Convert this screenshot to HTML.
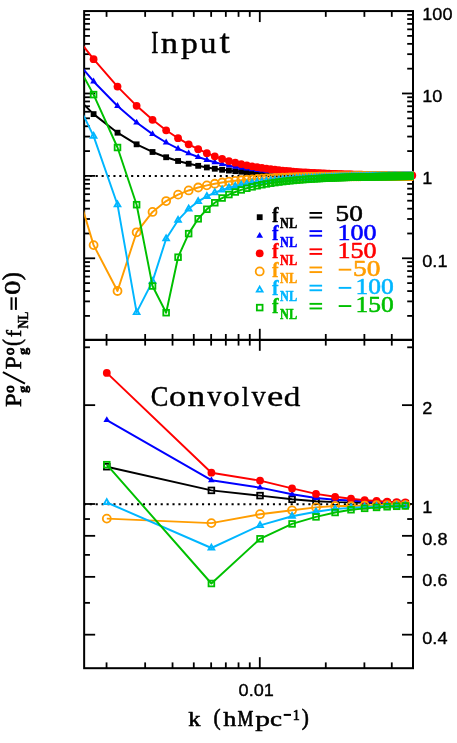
<!DOCTYPE html>
<html lang="en"><head><meta charset="utf-8"><title>P_g ratio vs k</title>
<style>html,body{margin:0;padding:0;background:#fff;}body{width:457px;height:743px;overflow:hidden;font-family:"Liberation Sans",sans-serif;}svg{display:block;will-change:transform;}</style></head>
<body>
<svg width="457" height="743" viewBox="0 0 457 743">
<rect width="457" height="743" fill="#fff"/>
<defs>
<clipPath id="ct"><rect x="84.15" y="11.07" width="328.85" height="328.73"/></clipPath>
<clipPath id="cb"><rect x="84.15" y="339.8" width="328.85" height="328.40000000000003"/></clipPath>
<clipPath id="cm"><rect x="0" y="0" width="413.5" height="339.8"/></clipPath>
</defs>
<line x1="83.86" y1="175.95" x2="413.00" y2="175.95" stroke="#000" stroke-width="1.9" stroke-dasharray="2.1 3.808"/>
<line x1="83.86" y1="504.25" x2="413.00" y2="504.25" stroke="#000" stroke-width="1.9" stroke-dasharray="2.1 3.808"/>
<g stroke="#000" stroke-width="2.0" stroke-linecap="square" fill="none">
<rect x="84.15" y="11.07" width="328.85" height="657.13"/>
</g>
<line x1="84.15" y1="339.80" x2="413.00" y2="339.80" stroke="#000" stroke-width="2.3"/>
<line x1="106.55" y1="11.07" x2="106.55" y2="16.87" stroke="#000" stroke-width="1.8"/>
<line x1="106.55" y1="334.00" x2="106.55" y2="345.60" stroke="#000" stroke-width="1.8"/>
<line x1="106.55" y1="668.20" x2="106.55" y2="662.40" stroke="#000" stroke-width="1.8"/>
<line x1="145.15" y1="11.07" x2="145.15" y2="16.87" stroke="#000" stroke-width="1.8"/>
<line x1="145.15" y1="334.00" x2="145.15" y2="345.60" stroke="#000" stroke-width="1.8"/>
<line x1="145.15" y1="668.20" x2="145.15" y2="662.40" stroke="#000" stroke-width="1.8"/>
<line x1="172.54" y1="11.07" x2="172.54" y2="16.87" stroke="#000" stroke-width="1.8"/>
<line x1="172.54" y1="334.00" x2="172.54" y2="345.60" stroke="#000" stroke-width="1.8"/>
<line x1="172.54" y1="668.20" x2="172.54" y2="662.40" stroke="#000" stroke-width="1.8"/>
<line x1="193.79" y1="11.07" x2="193.79" y2="16.87" stroke="#000" stroke-width="1.8"/>
<line x1="193.79" y1="334.00" x2="193.79" y2="345.60" stroke="#000" stroke-width="1.8"/>
<line x1="193.79" y1="668.20" x2="193.79" y2="662.40" stroke="#000" stroke-width="1.8"/>
<line x1="211.15" y1="11.07" x2="211.15" y2="16.87" stroke="#000" stroke-width="1.8"/>
<line x1="211.15" y1="334.00" x2="211.15" y2="345.60" stroke="#000" stroke-width="1.8"/>
<line x1="211.15" y1="668.20" x2="211.15" y2="662.40" stroke="#000" stroke-width="1.8"/>
<line x1="225.83" y1="11.07" x2="225.83" y2="16.87" stroke="#000" stroke-width="1.8"/>
<line x1="225.83" y1="334.00" x2="225.83" y2="345.60" stroke="#000" stroke-width="1.8"/>
<line x1="225.83" y1="668.20" x2="225.83" y2="662.40" stroke="#000" stroke-width="1.8"/>
<line x1="238.54" y1="11.07" x2="238.54" y2="16.87" stroke="#000" stroke-width="1.8"/>
<line x1="238.54" y1="334.00" x2="238.54" y2="345.60" stroke="#000" stroke-width="1.8"/>
<line x1="238.54" y1="668.20" x2="238.54" y2="662.40" stroke="#000" stroke-width="1.8"/>
<line x1="249.76" y1="11.07" x2="249.76" y2="16.87" stroke="#000" stroke-width="1.8"/>
<line x1="249.76" y1="334.00" x2="249.76" y2="345.60" stroke="#000" stroke-width="1.8"/>
<line x1="249.76" y1="668.20" x2="249.76" y2="662.40" stroke="#000" stroke-width="1.8"/>
<line x1="259.79" y1="11.07" x2="259.79" y2="22.07" stroke="#000" stroke-width="1.8"/>
<line x1="259.79" y1="328.80" x2="259.79" y2="350.80" stroke="#000" stroke-width="1.8"/>
<line x1="259.79" y1="668.20" x2="259.79" y2="657.20" stroke="#000" stroke-width="1.8"/>
<line x1="325.78" y1="11.07" x2="325.78" y2="16.87" stroke="#000" stroke-width="1.8"/>
<line x1="325.78" y1="334.00" x2="325.78" y2="345.60" stroke="#000" stroke-width="1.8"/>
<line x1="325.78" y1="668.20" x2="325.78" y2="662.40" stroke="#000" stroke-width="1.8"/>
<line x1="364.39" y1="11.07" x2="364.39" y2="16.87" stroke="#000" stroke-width="1.8"/>
<line x1="364.39" y1="334.00" x2="364.39" y2="345.60" stroke="#000" stroke-width="1.8"/>
<line x1="364.39" y1="668.20" x2="364.39" y2="662.40" stroke="#000" stroke-width="1.8"/>
<line x1="391.78" y1="11.07" x2="391.78" y2="16.87" stroke="#000" stroke-width="1.8"/>
<line x1="391.78" y1="334.00" x2="391.78" y2="345.60" stroke="#000" stroke-width="1.8"/>
<line x1="391.78" y1="668.20" x2="391.78" y2="662.40" stroke="#000" stroke-width="1.8"/>
<line x1="413.02" y1="11.07" x2="413.02" y2="16.87" stroke="#000" stroke-width="1.8"/>
<line x1="413.02" y1="334.00" x2="413.02" y2="345.60" stroke="#000" stroke-width="1.8"/>
<line x1="413.02" y1="668.20" x2="413.02" y2="662.40" stroke="#000" stroke-width="1.8"/>
<line x1="84.15" y1="315.90" x2="89.95" y2="315.90" stroke="#000" stroke-width="1.8"/>
<line x1="413.00" y1="315.90" x2="407.20" y2="315.90" stroke="#000" stroke-width="1.8"/>
<line x1="84.15" y1="301.39" x2="89.95" y2="301.39" stroke="#000" stroke-width="1.8"/>
<line x1="413.00" y1="301.39" x2="407.20" y2="301.39" stroke="#000" stroke-width="1.8"/>
<line x1="84.15" y1="291.09" x2="89.95" y2="291.09" stroke="#000" stroke-width="1.8"/>
<line x1="413.00" y1="291.09" x2="407.20" y2="291.09" stroke="#000" stroke-width="1.8"/>
<line x1="84.15" y1="283.11" x2="89.95" y2="283.11" stroke="#000" stroke-width="1.8"/>
<line x1="413.00" y1="283.11" x2="407.20" y2="283.11" stroke="#000" stroke-width="1.8"/>
<line x1="84.15" y1="276.58" x2="89.95" y2="276.58" stroke="#000" stroke-width="1.8"/>
<line x1="413.00" y1="276.58" x2="407.20" y2="276.58" stroke="#000" stroke-width="1.8"/>
<line x1="84.15" y1="271.07" x2="89.95" y2="271.07" stroke="#000" stroke-width="1.8"/>
<line x1="413.00" y1="271.07" x2="407.20" y2="271.07" stroke="#000" stroke-width="1.8"/>
<line x1="84.15" y1="266.29" x2="89.95" y2="266.29" stroke="#000" stroke-width="1.8"/>
<line x1="413.00" y1="266.29" x2="407.20" y2="266.29" stroke="#000" stroke-width="1.8"/>
<line x1="84.15" y1="262.07" x2="89.95" y2="262.07" stroke="#000" stroke-width="1.8"/>
<line x1="413.00" y1="262.07" x2="407.20" y2="262.07" stroke="#000" stroke-width="1.8"/>
<line x1="84.15" y1="258.30" x2="95.15" y2="258.30" stroke="#000" stroke-width="1.8"/>
<line x1="413.00" y1="258.30" x2="402.00" y2="258.30" stroke="#000" stroke-width="1.8"/>
<line x1="84.15" y1="233.49" x2="89.95" y2="233.49" stroke="#000" stroke-width="1.8"/>
<line x1="413.00" y1="233.49" x2="407.20" y2="233.49" stroke="#000" stroke-width="1.8"/>
<line x1="84.15" y1="218.98" x2="89.95" y2="218.98" stroke="#000" stroke-width="1.8"/>
<line x1="413.00" y1="218.98" x2="407.20" y2="218.98" stroke="#000" stroke-width="1.8"/>
<line x1="84.15" y1="208.68" x2="89.95" y2="208.68" stroke="#000" stroke-width="1.8"/>
<line x1="413.00" y1="208.68" x2="407.20" y2="208.68" stroke="#000" stroke-width="1.8"/>
<line x1="84.15" y1="200.70" x2="89.95" y2="200.70" stroke="#000" stroke-width="1.8"/>
<line x1="413.00" y1="200.70" x2="407.20" y2="200.70" stroke="#000" stroke-width="1.8"/>
<line x1="84.15" y1="194.17" x2="89.95" y2="194.17" stroke="#000" stroke-width="1.8"/>
<line x1="413.00" y1="194.17" x2="407.20" y2="194.17" stroke="#000" stroke-width="1.8"/>
<line x1="84.15" y1="188.66" x2="89.95" y2="188.66" stroke="#000" stroke-width="1.8"/>
<line x1="413.00" y1="188.66" x2="407.20" y2="188.66" stroke="#000" stroke-width="1.8"/>
<line x1="84.15" y1="183.88" x2="89.95" y2="183.88" stroke="#000" stroke-width="1.8"/>
<line x1="413.00" y1="183.88" x2="407.20" y2="183.88" stroke="#000" stroke-width="1.8"/>
<line x1="84.15" y1="179.66" x2="89.95" y2="179.66" stroke="#000" stroke-width="1.8"/>
<line x1="413.00" y1="179.66" x2="407.20" y2="179.66" stroke="#000" stroke-width="1.8"/>
<line x1="84.15" y1="175.89" x2="95.15" y2="175.89" stroke="#000" stroke-width="1.8"/>
<line x1="413.00" y1="175.89" x2="402.00" y2="175.89" stroke="#000" stroke-width="1.8"/>
<line x1="84.15" y1="151.08" x2="89.95" y2="151.08" stroke="#000" stroke-width="1.8"/>
<line x1="413.00" y1="151.08" x2="407.20" y2="151.08" stroke="#000" stroke-width="1.8"/>
<line x1="84.15" y1="136.57" x2="89.95" y2="136.57" stroke="#000" stroke-width="1.8"/>
<line x1="413.00" y1="136.57" x2="407.20" y2="136.57" stroke="#000" stroke-width="1.8"/>
<line x1="84.15" y1="126.27" x2="89.95" y2="126.27" stroke="#000" stroke-width="1.8"/>
<line x1="413.00" y1="126.27" x2="407.20" y2="126.27" stroke="#000" stroke-width="1.8"/>
<line x1="84.15" y1="118.29" x2="89.95" y2="118.29" stroke="#000" stroke-width="1.8"/>
<line x1="413.00" y1="118.29" x2="407.20" y2="118.29" stroke="#000" stroke-width="1.8"/>
<line x1="84.15" y1="111.76" x2="89.95" y2="111.76" stroke="#000" stroke-width="1.8"/>
<line x1="413.00" y1="111.76" x2="407.20" y2="111.76" stroke="#000" stroke-width="1.8"/>
<line x1="84.15" y1="106.25" x2="89.95" y2="106.25" stroke="#000" stroke-width="1.8"/>
<line x1="413.00" y1="106.25" x2="407.20" y2="106.25" stroke="#000" stroke-width="1.8"/>
<line x1="84.15" y1="101.47" x2="89.95" y2="101.47" stroke="#000" stroke-width="1.8"/>
<line x1="413.00" y1="101.47" x2="407.20" y2="101.47" stroke="#000" stroke-width="1.8"/>
<line x1="84.15" y1="97.25" x2="89.95" y2="97.25" stroke="#000" stroke-width="1.8"/>
<line x1="413.00" y1="97.25" x2="407.20" y2="97.25" stroke="#000" stroke-width="1.8"/>
<line x1="84.15" y1="93.48" x2="95.15" y2="93.48" stroke="#000" stroke-width="1.8"/>
<line x1="413.00" y1="93.48" x2="402.00" y2="93.48" stroke="#000" stroke-width="1.8"/>
<line x1="84.15" y1="68.67" x2="89.95" y2="68.67" stroke="#000" stroke-width="1.8"/>
<line x1="413.00" y1="68.67" x2="407.20" y2="68.67" stroke="#000" stroke-width="1.8"/>
<line x1="84.15" y1="54.16" x2="89.95" y2="54.16" stroke="#000" stroke-width="1.8"/>
<line x1="413.00" y1="54.16" x2="407.20" y2="54.16" stroke="#000" stroke-width="1.8"/>
<line x1="84.15" y1="43.86" x2="89.95" y2="43.86" stroke="#000" stroke-width="1.8"/>
<line x1="413.00" y1="43.86" x2="407.20" y2="43.86" stroke="#000" stroke-width="1.8"/>
<line x1="84.15" y1="35.88" x2="89.95" y2="35.88" stroke="#000" stroke-width="1.8"/>
<line x1="413.00" y1="35.88" x2="407.20" y2="35.88" stroke="#000" stroke-width="1.8"/>
<line x1="84.15" y1="29.35" x2="89.95" y2="29.35" stroke="#000" stroke-width="1.8"/>
<line x1="413.00" y1="29.35" x2="407.20" y2="29.35" stroke="#000" stroke-width="1.8"/>
<line x1="84.15" y1="23.84" x2="89.95" y2="23.84" stroke="#000" stroke-width="1.8"/>
<line x1="413.00" y1="23.84" x2="407.20" y2="23.84" stroke="#000" stroke-width="1.8"/>
<line x1="84.15" y1="19.06" x2="89.95" y2="19.06" stroke="#000" stroke-width="1.8"/>
<line x1="413.00" y1="19.06" x2="407.20" y2="19.06" stroke="#000" stroke-width="1.8"/>
<line x1="84.15" y1="14.84" x2="89.95" y2="14.84" stroke="#000" stroke-width="1.8"/>
<line x1="413.00" y1="14.84" x2="407.20" y2="14.84" stroke="#000" stroke-width="1.8"/>
<line x1="84.15" y1="347.31" x2="89.95" y2="347.31" stroke="#000" stroke-width="1.8"/>
<line x1="413.00" y1="347.31" x2="407.20" y2="347.31" stroke="#000" stroke-width="1.8"/>
<line x1="84.15" y1="405.14" x2="95.15" y2="405.14" stroke="#000" stroke-width="1.8"/>
<line x1="413.00" y1="405.14" x2="402.00" y2="405.14" stroke="#000" stroke-width="1.8"/>
<line x1="84.15" y1="504.00" x2="95.15" y2="504.00" stroke="#000" stroke-width="1.8"/>
<line x1="413.00" y1="504.00" x2="402.00" y2="504.00" stroke="#000" stroke-width="1.8"/>
<line x1="84.15" y1="519.03" x2="89.95" y2="519.03" stroke="#000" stroke-width="1.8"/>
<line x1="413.00" y1="519.03" x2="407.20" y2="519.03" stroke="#000" stroke-width="1.8"/>
<line x1="84.15" y1="535.83" x2="95.15" y2="535.83" stroke="#000" stroke-width="1.8"/>
<line x1="413.00" y1="535.83" x2="402.00" y2="535.83" stroke="#000" stroke-width="1.8"/>
<line x1="84.15" y1="554.87" x2="89.95" y2="554.87" stroke="#000" stroke-width="1.8"/>
<line x1="413.00" y1="554.87" x2="407.20" y2="554.87" stroke="#000" stroke-width="1.8"/>
<line x1="84.15" y1="576.86" x2="95.15" y2="576.86" stroke="#000" stroke-width="1.8"/>
<line x1="413.00" y1="576.86" x2="402.00" y2="576.86" stroke="#000" stroke-width="1.8"/>
<line x1="84.15" y1="602.86" x2="89.95" y2="602.86" stroke="#000" stroke-width="1.8"/>
<line x1="413.00" y1="602.86" x2="407.20" y2="602.86" stroke="#000" stroke-width="1.8"/>
<line x1="84.15" y1="634.68" x2="95.15" y2="634.68" stroke="#000" stroke-width="1.8"/>
<line x1="413.00" y1="634.68" x2="402.00" y2="634.68" stroke="#000" stroke-width="1.8"/>
<polyline points="61.55,82.47 93.59,114.11 117.51,132.70 136.62,144.33 152.53,151.99 166.15,157.25 178.07,160.99 188.66,163.73 198.19,165.82 206.85,167.46 214.79,168.74 222.11,169.76 228.92,170.56 235.27,171.19 241.22,171.71 246.82,172.15 252.11,172.53 257.13,172.84 261.89,173.12 266.42,173.35 270.75,173.56 274.89,173.74 278.86,173.90 282.67,174.04 286.33,174.17 289.86,174.29 293.26,174.39 296.54,174.48 299.72,174.57 302.79,174.64 305.76,174.71 308.65,174.77 311.45,174.83 314.17,174.89 316.81,174.93 319.39,174.98 321.89,175.02 324.33,175.06 326.72,175.10 329.04,175.13 331.30,175.17 333.52,175.20 335.68,175.23 337.80,175.25 339.87,175.28 341.89,175.30 343.88,175.32 345.82,175.34 347.73,175.36 349.59,175.38 351.42,175.40 353.22,175.41 354.98,175.43 356.71,175.44 358.41,175.46 360.09,175.47 361.73,175.48 363.34,175.50 364.93,175.51 366.49,175.52 368.02,175.53 369.54,175.54 371.02,175.55 372.49,175.56 373.93,175.57 375.35,175.57 376.75,175.58 378.13,175.59 379.49,175.60 380.83,175.60 382.16,175.61 383.46,175.62 384.75,175.62 386.02,175.63 387.27,175.63 388.51,175.64 389.73,175.64 390.93,175.65 392.12,175.65 393.30,175.66 394.46,175.66 395.61,175.67 396.74,175.67 397.86,175.68 398.97,175.68 400.06,175.68 401.14,175.69 402.21,175.69 403.27,175.69 404.32,175.70 405.35,175.70 406.38,175.70 407.39,175.71 408.39,175.71 409.38,175.71 410.36,175.71 411.34,175.72 412.30,175.72" fill="none" stroke="#000000" stroke-width="1.95" stroke-linejoin="round" clip-path="url(#ct)"/>
<g clip-path="url(#cm)">
<rect x="90.68" y="111.20" width="5.82" height="5.82" fill="#000000"/>
<rect x="114.61" y="129.79" width="5.82" height="5.82" fill="#000000"/>
<rect x="133.71" y="141.42" width="5.82" height="5.82" fill="#000000"/>
<rect x="149.62" y="149.08" width="5.82" height="5.82" fill="#000000"/>
<rect x="163.24" y="154.34" width="5.82" height="5.82" fill="#000000"/>
<rect x="175.16" y="158.08" width="5.82" height="5.82" fill="#000000"/>
<rect x="185.75" y="160.82" width="5.82" height="5.82" fill="#000000"/>
<rect x="195.28" y="162.92" width="5.82" height="5.82" fill="#000000"/>
<rect x="203.94" y="164.55" width="5.82" height="5.82" fill="#000000"/>
<rect x="211.88" y="165.84" width="5.82" height="5.82" fill="#000000"/>
<rect x="219.21" y="166.85" width="5.82" height="5.82" fill="#000000"/>
<rect x="226.01" y="167.65" width="5.82" height="5.82" fill="#000000"/>
<rect x="232.36" y="168.28" width="5.82" height="5.82" fill="#000000"/>
<rect x="238.31" y="168.81" width="5.82" height="5.82" fill="#000000"/>
<rect x="243.92" y="169.25" width="5.82" height="5.82" fill="#000000"/>
<rect x="249.21" y="169.62" width="5.82" height="5.82" fill="#000000"/>
<rect x="254.22" y="169.93" width="5.82" height="5.82" fill="#000000"/>
<rect x="258.98" y="170.21" width="5.82" height="5.82" fill="#000000"/>
<rect x="263.51" y="170.44" width="5.82" height="5.82" fill="#000000"/>
<rect x="267.84" y="170.65" width="5.82" height="5.82" fill="#000000"/>
<rect x="271.98" y="170.83" width="5.82" height="5.82" fill="#000000"/>
<rect x="275.95" y="170.99" width="5.82" height="5.82" fill="#000000"/>
<rect x="279.76" y="171.14" width="5.82" height="5.82" fill="#000000"/>
<rect x="283.42" y="171.26" width="5.82" height="5.82" fill="#000000"/>
<rect x="286.95" y="171.38" width="5.82" height="5.82" fill="#000000"/>
<rect x="290.35" y="171.48" width="5.82" height="5.82" fill="#000000"/>
<rect x="293.63" y="171.57" width="5.82" height="5.82" fill="#000000"/>
<rect x="296.81" y="171.66" width="5.82" height="5.82" fill="#000000"/>
<rect x="299.88" y="171.73" width="5.82" height="5.82" fill="#000000"/>
<rect x="302.86" y="171.80" width="5.82" height="5.82" fill="#000000"/>
<rect x="305.74" y="171.87" width="5.82" height="5.82" fill="#000000"/>
<rect x="308.54" y="171.92" width="5.82" height="5.82" fill="#000000"/>
<rect x="311.26" y="171.98" width="5.82" height="5.82" fill="#000000"/>
<rect x="313.91" y="172.03" width="5.82" height="5.82" fill="#000000"/>
<rect x="316.48" y="172.07" width="5.82" height="5.82" fill="#000000"/>
<rect x="318.99" y="172.11" width="5.82" height="5.82" fill="#000000"/>
<rect x="321.43" y="172.15" width="5.82" height="5.82" fill="#000000"/>
<rect x="323.81" y="172.19" width="5.82" height="5.82" fill="#000000"/>
<rect x="326.13" y="172.23" width="5.82" height="5.82" fill="#000000"/>
<rect x="328.40" y="172.26" width="5.82" height="5.82" fill="#000000"/>
<rect x="330.61" y="172.29" width="5.82" height="5.82" fill="#000000"/>
<rect x="332.78" y="172.32" width="5.82" height="5.82" fill="#000000"/>
<rect x="334.89" y="172.34" width="5.82" height="5.82" fill="#000000"/>
<rect x="336.96" y="172.37" width="5.82" height="5.82" fill="#000000"/>
<rect x="338.99" y="172.39" width="5.82" height="5.82" fill="#000000"/>
<rect x="340.97" y="172.41" width="5.82" height="5.82" fill="#000000"/>
<rect x="342.91" y="172.44" width="5.82" height="5.82" fill="#000000"/>
<rect x="344.82" y="172.45" width="5.82" height="5.82" fill="#000000"/>
<rect x="346.69" y="172.47" width="5.82" height="5.82" fill="#000000"/>
<rect x="348.52" y="172.49" width="5.82" height="5.82" fill="#000000"/>
<rect x="350.31" y="172.51" width="5.82" height="5.82" fill="#000000"/>
<rect x="352.08" y="172.52" width="5.82" height="5.82" fill="#000000"/>
<rect x="353.81" y="172.54" width="5.82" height="5.82" fill="#000000"/>
<rect x="355.51" y="172.55" width="5.82" height="5.82" fill="#000000"/>
<rect x="357.18" y="172.56" width="5.82" height="5.82" fill="#000000"/>
<rect x="358.82" y="172.58" width="5.82" height="5.82" fill="#000000"/>
<rect x="360.43" y="172.59" width="5.82" height="5.82" fill="#000000"/>
<rect x="362.02" y="172.60" width="5.82" height="5.82" fill="#000000"/>
<rect x="363.58" y="172.61" width="5.82" height="5.82" fill="#000000"/>
<rect x="365.12" y="172.62" width="5.82" height="5.82" fill="#000000"/>
<rect x="366.63" y="172.63" width="5.82" height="5.82" fill="#000000"/>
<rect x="368.12" y="172.64" width="5.82" height="5.82" fill="#000000"/>
<rect x="369.58" y="172.65" width="5.82" height="5.82" fill="#000000"/>
<rect x="371.02" y="172.66" width="5.82" height="5.82" fill="#000000"/>
<rect x="372.44" y="172.67" width="5.82" height="5.82" fill="#000000"/>
<rect x="373.84" y="172.67" width="5.82" height="5.82" fill="#000000"/>
<rect x="375.22" y="172.68" width="5.82" height="5.82" fill="#000000"/>
<rect x="376.58" y="172.69" width="5.82" height="5.82" fill="#000000"/>
<rect x="377.93" y="172.70" width="5.82" height="5.82" fill="#000000"/>
<rect x="379.25" y="172.70" width="5.82" height="5.82" fill="#000000"/>
<rect x="380.55" y="172.71" width="5.82" height="5.82" fill="#000000"/>
<rect x="381.84" y="172.71" width="5.82" height="5.82" fill="#000000"/>
<rect x="383.11" y="172.72" width="5.82" height="5.82" fill="#000000"/>
<rect x="384.36" y="172.73" width="5.82" height="5.82" fill="#000000"/>
<rect x="385.60" y="172.73" width="5.82" height="5.82" fill="#000000"/>
<rect x="386.82" y="172.74" width="5.82" height="5.82" fill="#000000"/>
<rect x="388.02" y="172.74" width="5.82" height="5.82" fill="#000000"/>
<rect x="389.21" y="172.75" width="5.82" height="5.82" fill="#000000"/>
<rect x="390.39" y="172.75" width="5.82" height="5.82" fill="#000000"/>
<rect x="391.55" y="172.76" width="5.82" height="5.82" fill="#000000"/>
<rect x="392.70" y="172.76" width="5.82" height="5.82" fill="#000000"/>
<rect x="393.83" y="172.76" width="5.82" height="5.82" fill="#000000"/>
<rect x="394.95" y="172.77" width="5.82" height="5.82" fill="#000000"/>
<rect x="396.06" y="172.77" width="5.82" height="5.82" fill="#000000"/>
<rect x="397.15" y="172.78" width="5.82" height="5.82" fill="#000000"/>
<rect x="398.23" y="172.78" width="5.82" height="5.82" fill="#000000"/>
<rect x="399.30" y="172.78" width="5.82" height="5.82" fill="#000000"/>
<rect x="400.36" y="172.79" width="5.82" height="5.82" fill="#000000"/>
<rect x="401.41" y="172.79" width="5.82" height="5.82" fill="#000000"/>
<rect x="402.44" y="172.79" width="5.82" height="5.82" fill="#000000"/>
<rect x="403.47" y="172.80" width="5.82" height="5.82" fill="#000000"/>
<rect x="404.48" y="172.80" width="5.82" height="5.82" fill="#000000"/>
<rect x="405.48" y="172.80" width="5.82" height="5.82" fill="#000000"/>
<rect x="406.47" y="172.80" width="5.82" height="5.82" fill="#000000"/>
<rect x="407.46" y="172.81" width="5.82" height="5.82" fill="#000000"/>
<rect x="408.43" y="172.81" width="5.82" height="5.82" fill="#000000"/>
<rect x="409.39" y="172.81" width="5.82" height="5.82" fill="#000000"/>
</g>
<polyline points="61.55,43.33 93.59,81.48 117.51,105.98 136.62,122.53 152.53,134.13 166.15,142.50 178.07,148.69 188.66,153.37 198.19,157.03 206.85,159.95 214.79,162.28 222.11,164.15 228.92,165.63 235.27,166.82 241.22,167.80 246.82,168.64 252.11,169.35 257.13,169.96 261.89,170.48 266.42,170.94 270.75,171.34 274.89,171.69 278.86,172.01 282.67,172.28 286.33,172.53 289.86,172.76 293.26,172.96 296.54,173.14 299.72,173.30 302.79,173.45 305.76,173.59 308.65,173.71 311.45,173.83 314.17,173.93 316.81,174.03 319.39,174.12 321.89,174.20 324.33,174.28 326.72,174.35 329.04,174.42 331.30,174.49 333.52,174.55 335.68,174.61 337.80,174.66 339.87,174.71 341.89,174.75 343.88,174.80 345.82,174.84 347.73,174.88 349.59,174.91 351.42,174.95 353.22,174.98 354.98,175.01 356.71,175.04 358.41,175.07 360.09,175.10 361.73,175.12 363.34,175.14 364.93,175.17 366.49,175.19 368.02,175.21 369.54,175.23 371.02,175.25 372.49,175.27 373.93,175.28 375.35,175.30 376.75,175.31 378.13,175.33 379.49,175.34 380.83,175.36 382.16,175.37 383.46,175.38 384.75,175.40 386.02,175.41 387.27,175.42 388.51,175.43 389.73,175.44 390.93,175.45 392.12,175.46 393.30,175.47 394.46,175.48 395.61,175.49 396.74,175.49 397.86,175.50 398.97,175.51 400.06,175.52 401.14,175.52 402.21,175.53 403.27,175.54 404.32,175.54 405.35,175.55 406.38,175.56 407.39,175.56 408.39,175.57 409.38,175.57 410.36,175.58 411.34,175.59 412.30,175.59" fill="none" stroke="#0000ff" stroke-width="1.95" stroke-linejoin="round" clip-path="url(#ct)"/>
<g clip-path="url(#cm)">
<polygon points="93.59,77.58 96.96,83.43 90.21,83.43" fill="#0000ff"/>
<polygon points="117.51,102.08 120.89,107.93 114.14,107.93" fill="#0000ff"/>
<polygon points="136.62,118.63 140.00,124.48 133.24,124.48" fill="#0000ff"/>
<polygon points="152.53,130.23 155.90,136.08 149.15,136.08" fill="#0000ff"/>
<polygon points="166.15,138.60 169.53,144.45 162.77,144.45" fill="#0000ff"/>
<polygon points="178.07,144.79 181.44,150.64 174.69,150.64" fill="#0000ff"/>
<polygon points="188.66,149.47 192.03,155.32 185.28,155.32" fill="#0000ff"/>
<polygon points="198.19,153.13 201.56,158.98 194.81,158.98" fill="#0000ff"/>
<polygon points="206.85,156.05 210.23,161.90 203.47,161.90" fill="#0000ff"/>
<polygon points="214.79,158.38 218.16,164.23 211.41,164.23" fill="#0000ff"/>
<polygon points="222.11,160.25 225.49,166.10 218.74,166.10" fill="#0000ff"/>
<polygon points="228.92,161.73 232.30,167.58 225.54,167.58" fill="#0000ff"/>
<polygon points="235.27,162.92 238.65,168.77 231.89,168.77" fill="#0000ff"/>
<polygon points="241.22,163.90 244.60,169.75 237.84,169.75" fill="#0000ff"/>
<polygon points="246.82,164.74 250.20,170.59 243.45,170.59" fill="#0000ff"/>
<polygon points="252.11,165.45 255.49,171.30 248.74,171.30" fill="#0000ff"/>
<polygon points="257.13,166.06 260.50,171.91 253.75,171.91" fill="#0000ff"/>
<polygon points="261.89,166.58 265.27,172.43 258.51,172.43" fill="#0000ff"/>
<polygon points="266.42,167.04 269.80,172.89 263.04,172.89" fill="#0000ff"/>
<polygon points="270.75,167.44 274.13,173.29 267.37,173.29" fill="#0000ff"/>
<polygon points="274.89,167.79 278.27,173.64 271.51,173.64" fill="#0000ff"/>
<polygon points="278.86,168.11 282.24,173.96 275.48,173.96" fill="#0000ff"/>
<polygon points="282.67,168.38 286.05,174.23 279.29,174.23" fill="#0000ff"/>
<polygon points="286.33,168.63 289.71,174.48 282.95,174.48" fill="#0000ff"/>
<polygon points="289.86,168.86 293.23,174.71 286.48,174.71" fill="#0000ff"/>
<polygon points="293.26,169.06 296.64,174.91 289.88,174.91" fill="#0000ff"/>
<polygon points="296.54,169.24 299.92,175.09 293.16,175.09" fill="#0000ff"/>
<polygon points="299.72,169.40 303.09,175.25 296.34,175.25" fill="#0000ff"/>
<polygon points="302.79,169.55 306.16,175.40 299.41,175.40" fill="#0000ff"/>
<polygon points="305.76,169.69 309.14,175.54 302.39,175.54" fill="#0000ff"/>
<polygon points="308.65,169.81 312.03,175.66 305.27,175.66" fill="#0000ff"/>
<polygon points="311.45,169.93 314.83,175.78 308.07,175.78" fill="#0000ff"/>
<polygon points="314.17,170.03 317.55,175.88 310.79,175.88" fill="#0000ff"/>
<polygon points="316.81,170.13 320.19,175.98 313.44,175.98" fill="#0000ff"/>
<polygon points="319.39,170.22 322.77,176.07 316.01,176.07" fill="#0000ff"/>
<polygon points="321.89,170.30 325.27,176.15 318.52,176.15" fill="#0000ff"/>
<polygon points="324.33,170.38 327.71,176.23 320.96,176.23" fill="#0000ff"/>
<polygon points="326.72,170.45 330.09,176.30 323.34,176.30" fill="#0000ff"/>
<polygon points="329.04,170.52 332.42,176.37 325.66,176.37" fill="#0000ff"/>
<polygon points="331.30,170.59 334.68,176.44 327.93,176.44" fill="#0000ff"/>
<polygon points="333.52,170.65 336.90,176.50 330.14,176.50" fill="#0000ff"/>
<polygon points="335.68,170.71 339.06,176.56 332.31,176.56" fill="#0000ff"/>
<polygon points="337.80,170.76 341.18,176.61 334.42,176.61" fill="#0000ff"/>
<polygon points="339.87,170.81 343.25,176.66 336.49,176.66" fill="#0000ff"/>
<polygon points="341.89,170.85 345.27,176.70 338.52,176.70" fill="#0000ff"/>
<polygon points="343.88,170.90 347.26,176.75 340.50,176.75" fill="#0000ff"/>
<polygon points="345.82,170.94 349.20,176.79 342.44,176.79" fill="#0000ff"/>
<polygon points="347.73,170.98 351.10,176.83 344.35,176.83" fill="#0000ff"/>
<polygon points="349.59,171.01 352.97,176.86 346.22,176.86" fill="#0000ff"/>
<polygon points="351.42,171.05 354.80,176.90 348.05,176.90" fill="#0000ff"/>
<polygon points="353.22,171.08 356.60,176.93 349.84,176.93" fill="#0000ff"/>
<polygon points="354.98,171.11 358.36,176.96 351.61,176.96" fill="#0000ff"/>
<polygon points="356.71,171.14 360.09,176.99 353.34,176.99" fill="#0000ff"/>
<polygon points="358.41,171.17 361.79,177.02 355.04,177.02" fill="#0000ff"/>
<polygon points="360.09,171.20 363.46,177.05 356.71,177.05" fill="#0000ff"/>
<polygon points="361.73,171.22 365.10,177.07 358.35,177.07" fill="#0000ff"/>
<polygon points="363.34,171.24 366.72,177.09 359.96,177.09" fill="#0000ff"/>
<polygon points="364.93,171.27 368.31,177.12 361.55,177.12" fill="#0000ff"/>
<polygon points="366.49,171.29 369.87,177.14 363.11,177.14" fill="#0000ff"/>
<polygon points="368.02,171.31 371.40,177.16 364.65,177.16" fill="#0000ff"/>
<polygon points="369.54,171.33 372.91,177.18 366.16,177.18" fill="#0000ff"/>
<polygon points="371.02,171.35 374.40,177.20 367.65,177.20" fill="#0000ff"/>
<polygon points="372.49,171.37 375.87,177.22 369.11,177.22" fill="#0000ff"/>
<polygon points="373.93,171.38 377.31,177.23 370.55,177.23" fill="#0000ff"/>
<polygon points="375.35,171.40 378.73,177.25 371.97,177.25" fill="#0000ff"/>
<polygon points="376.75,171.41 380.13,177.26 373.37,177.26" fill="#0000ff"/>
<polygon points="378.13,171.43 381.51,177.28 374.75,177.28" fill="#0000ff"/>
<polygon points="379.49,171.44 382.87,177.29 376.11,177.29" fill="#0000ff"/>
<polygon points="380.83,171.46 384.21,177.31 377.46,177.31" fill="#0000ff"/>
<polygon points="382.16,171.47 385.53,177.32 378.78,177.32" fill="#0000ff"/>
<polygon points="383.46,171.48 386.84,177.33 380.08,177.33" fill="#0000ff"/>
<polygon points="384.75,171.50 388.12,177.35 381.37,177.35" fill="#0000ff"/>
<polygon points="386.02,171.51 389.39,177.36 382.64,177.36" fill="#0000ff"/>
<polygon points="387.27,171.52 390.65,177.37 383.89,177.37" fill="#0000ff"/>
<polygon points="388.51,171.53 391.88,177.38 385.13,177.38" fill="#0000ff"/>
<polygon points="389.73,171.54 393.10,177.39 386.35,177.39" fill="#0000ff"/>
<polygon points="390.93,171.55 394.31,177.40 387.55,177.40" fill="#0000ff"/>
<polygon points="392.12,171.56 395.50,177.41 388.74,177.41" fill="#0000ff"/>
<polygon points="393.30,171.57 396.67,177.42 389.92,177.42" fill="#0000ff"/>
<polygon points="394.46,171.58 397.84,177.43 391.08,177.43" fill="#0000ff"/>
<polygon points="395.61,171.59 398.98,177.44 392.23,177.44" fill="#0000ff"/>
<polygon points="396.74,171.59 400.12,177.44 393.36,177.44" fill="#0000ff"/>
<polygon points="397.86,171.60 401.24,177.45 394.48,177.45" fill="#0000ff"/>
<polygon points="398.97,171.61 402.34,177.46 395.59,177.46" fill="#0000ff"/>
<polygon points="400.06,171.62 403.44,177.47 396.68,177.47" fill="#0000ff"/>
<polygon points="401.14,171.62 404.52,177.47 397.76,177.47" fill="#0000ff"/>
<polygon points="402.21,171.63 405.59,177.48 398.83,177.48" fill="#0000ff"/>
<polygon points="403.27,171.64 406.65,177.49 399.89,177.49" fill="#0000ff"/>
<polygon points="404.32,171.64 407.69,177.49 400.94,177.49" fill="#0000ff"/>
<polygon points="405.35,171.65 408.73,177.50 401.97,177.50" fill="#0000ff"/>
<polygon points="406.38,171.66 409.75,177.51 403.00,177.51" fill="#0000ff"/>
<polygon points="407.39,171.66 410.77,177.51 404.01,177.51" fill="#0000ff"/>
<polygon points="408.39,171.67 411.77,177.52 405.01,177.52" fill="#0000ff"/>
<polygon points="409.38,171.67 412.76,177.52 406.00,177.52" fill="#0000ff"/>
<polygon points="410.36,171.68 413.74,177.53 406.99,177.53" fill="#0000ff"/>
<polygon points="411.34,171.69 414.71,177.54 407.96,177.54" fill="#0000ff"/>
<polygon points="412.30,171.69 415.67,177.54 408.92,177.54" fill="#0000ff"/>
</g>
<polyline points="61.55,18.17 93.59,59.17 117.51,86.57 136.62,105.85 152.53,119.85 166.15,130.28 178.07,138.20 188.66,144.32 198.19,149.21 206.85,153.16 214.79,156.35 222.11,158.95 228.92,161.03 235.27,162.69 241.22,164.10 246.82,165.29 252.11,166.31 257.13,167.18 261.89,167.94 266.42,168.60 270.75,169.19 274.89,169.70 278.86,170.16 282.67,170.57 286.33,170.93 289.86,171.26 293.26,171.55 296.54,171.82 299.72,172.06 302.79,172.28 305.76,172.49 308.65,172.67 311.45,172.84 314.17,173.00 316.81,173.14 319.39,173.27 321.89,173.40 324.33,173.51 326.72,173.62 329.04,173.72 331.30,173.82 333.52,173.91 335.68,173.99 337.80,174.07 339.87,174.14 341.89,174.21 343.88,174.28 345.82,174.34 347.73,174.40 349.59,174.45 351.42,174.50 353.22,174.55 354.98,174.60 356.71,174.64 358.41,174.68 360.09,174.72 361.73,174.76 363.34,174.79 364.93,174.83 366.49,174.86 368.02,174.89 369.54,174.92 371.02,174.95 372.49,174.97 373.93,175.00 375.35,175.02 376.75,175.05 378.13,175.07 379.49,175.09 380.83,175.11 382.16,175.13 383.46,175.15 384.75,175.17 386.02,175.19 387.27,175.20 388.51,175.22 389.73,175.23 390.93,175.25 392.12,175.26 393.30,175.28 394.46,175.29 395.61,175.30 396.74,175.32 397.86,175.33 398.97,175.34 400.06,175.35 401.14,175.36 402.21,175.37 403.27,175.38 404.32,175.39 405.35,175.40 406.38,175.41 407.39,175.42 408.39,175.43 409.38,175.44 410.36,175.45 411.34,175.45 412.30,175.46" fill="none" stroke="#ff0000" stroke-width="1.95" stroke-linejoin="round" clip-path="url(#ct)"/>
<g>
<circle cx="93.59" cy="59.17" r="3.90" fill="#ff0000"/>
<circle cx="117.51" cy="86.57" r="3.90" fill="#ff0000"/>
<circle cx="136.62" cy="105.85" r="3.90" fill="#ff0000"/>
<circle cx="152.53" cy="119.85" r="3.90" fill="#ff0000"/>
<circle cx="166.15" cy="130.28" r="3.90" fill="#ff0000"/>
<circle cx="178.07" cy="138.20" r="3.90" fill="#ff0000"/>
<circle cx="188.66" cy="144.32" r="3.90" fill="#ff0000"/>
<circle cx="198.19" cy="149.21" r="3.90" fill="#ff0000"/>
<circle cx="206.85" cy="153.16" r="3.90" fill="#ff0000"/>
<circle cx="214.79" cy="156.35" r="3.90" fill="#ff0000"/>
<circle cx="222.11" cy="158.95" r="3.90" fill="#ff0000"/>
<circle cx="228.92" cy="161.03" r="3.90" fill="#ff0000"/>
<circle cx="235.27" cy="162.69" r="3.90" fill="#ff0000"/>
<circle cx="241.22" cy="164.10" r="3.90" fill="#ff0000"/>
<circle cx="246.82" cy="165.29" r="3.90" fill="#ff0000"/>
<circle cx="252.11" cy="166.31" r="3.90" fill="#ff0000"/>
<circle cx="257.13" cy="167.18" r="3.90" fill="#ff0000"/>
<circle cx="261.89" cy="167.94" r="3.90" fill="#ff0000"/>
<circle cx="266.42" cy="168.60" r="3.90" fill="#ff0000"/>
<circle cx="270.75" cy="169.19" r="3.90" fill="#ff0000"/>
<circle cx="274.89" cy="169.70" r="3.90" fill="#ff0000"/>
<circle cx="278.86" cy="170.16" r="3.90" fill="#ff0000"/>
<circle cx="282.67" cy="170.57" r="3.90" fill="#ff0000"/>
<circle cx="286.33" cy="170.93" r="3.90" fill="#ff0000"/>
<circle cx="289.86" cy="171.26" r="3.90" fill="#ff0000"/>
<circle cx="293.26" cy="171.55" r="3.90" fill="#ff0000"/>
<circle cx="296.54" cy="171.82" r="3.90" fill="#ff0000"/>
<circle cx="299.72" cy="172.06" r="3.90" fill="#ff0000"/>
<circle cx="302.79" cy="172.28" r="3.90" fill="#ff0000"/>
<circle cx="305.76" cy="172.49" r="3.90" fill="#ff0000"/>
<circle cx="308.65" cy="172.67" r="3.90" fill="#ff0000"/>
<circle cx="311.45" cy="172.84" r="3.90" fill="#ff0000"/>
<circle cx="314.17" cy="173.00" r="3.90" fill="#ff0000"/>
<circle cx="316.81" cy="173.14" r="3.90" fill="#ff0000"/>
<circle cx="319.39" cy="173.27" r="3.90" fill="#ff0000"/>
<circle cx="321.89" cy="173.40" r="3.90" fill="#ff0000"/>
<circle cx="324.33" cy="173.51" r="3.90" fill="#ff0000"/>
<circle cx="326.72" cy="173.62" r="3.90" fill="#ff0000"/>
<circle cx="329.04" cy="173.72" r="3.90" fill="#ff0000"/>
<circle cx="331.30" cy="173.82" r="3.90" fill="#ff0000"/>
<circle cx="333.52" cy="173.91" r="3.90" fill="#ff0000"/>
<circle cx="335.68" cy="173.99" r="3.90" fill="#ff0000"/>
<circle cx="337.80" cy="174.07" r="3.90" fill="#ff0000"/>
<circle cx="339.87" cy="174.14" r="3.90" fill="#ff0000"/>
<circle cx="341.89" cy="174.21" r="3.90" fill="#ff0000"/>
<circle cx="343.88" cy="174.28" r="3.90" fill="#ff0000"/>
<circle cx="345.82" cy="174.34" r="3.90" fill="#ff0000"/>
<circle cx="347.73" cy="174.40" r="3.90" fill="#ff0000"/>
<circle cx="349.59" cy="174.45" r="3.90" fill="#ff0000"/>
<circle cx="351.42" cy="174.50" r="3.90" fill="#ff0000"/>
<circle cx="353.22" cy="174.55" r="3.90" fill="#ff0000"/>
<circle cx="354.98" cy="174.60" r="3.90" fill="#ff0000"/>
<circle cx="356.71" cy="174.64" r="3.90" fill="#ff0000"/>
<circle cx="358.41" cy="174.68" r="3.90" fill="#ff0000"/>
<circle cx="360.09" cy="174.72" r="3.90" fill="#ff0000"/>
<circle cx="361.73" cy="174.76" r="3.90" fill="#ff0000"/>
<circle cx="363.34" cy="174.79" r="3.90" fill="#ff0000"/>
<circle cx="364.93" cy="174.83" r="3.90" fill="#ff0000"/>
<circle cx="366.49" cy="174.86" r="3.90" fill="#ff0000"/>
<circle cx="368.02" cy="174.89" r="3.90" fill="#ff0000"/>
<circle cx="369.54" cy="174.92" r="3.90" fill="#ff0000"/>
<circle cx="371.02" cy="174.95" r="3.90" fill="#ff0000"/>
<circle cx="372.49" cy="174.97" r="3.90" fill="#ff0000"/>
<circle cx="373.93" cy="175.00" r="3.90" fill="#ff0000"/>
<circle cx="375.35" cy="175.02" r="3.90" fill="#ff0000"/>
<circle cx="376.75" cy="175.05" r="3.90" fill="#ff0000"/>
<circle cx="378.13" cy="175.07" r="3.90" fill="#ff0000"/>
<circle cx="379.49" cy="175.09" r="3.90" fill="#ff0000"/>
<circle cx="380.83" cy="175.11" r="3.90" fill="#ff0000"/>
<circle cx="382.16" cy="175.13" r="3.90" fill="#ff0000"/>
<circle cx="383.46" cy="175.15" r="3.90" fill="#ff0000"/>
<circle cx="384.75" cy="175.17" r="3.90" fill="#ff0000"/>
<circle cx="386.02" cy="175.19" r="3.90" fill="#ff0000"/>
<circle cx="387.27" cy="175.20" r="3.90" fill="#ff0000"/>
<circle cx="388.51" cy="175.22" r="3.90" fill="#ff0000"/>
<circle cx="389.73" cy="175.23" r="3.90" fill="#ff0000"/>
<circle cx="390.93" cy="175.25" r="3.90" fill="#ff0000"/>
<circle cx="392.12" cy="175.26" r="3.90" fill="#ff0000"/>
<circle cx="393.30" cy="175.28" r="3.90" fill="#ff0000"/>
<circle cx="394.46" cy="175.29" r="3.90" fill="#ff0000"/>
<circle cx="395.61" cy="175.30" r="3.90" fill="#ff0000"/>
<circle cx="396.74" cy="175.32" r="3.90" fill="#ff0000"/>
<circle cx="397.86" cy="175.33" r="3.90" fill="#ff0000"/>
<circle cx="398.97" cy="175.34" r="3.90" fill="#ff0000"/>
<circle cx="400.06" cy="175.35" r="3.90" fill="#ff0000"/>
<circle cx="401.14" cy="175.36" r="3.90" fill="#ff0000"/>
<circle cx="402.21" cy="175.37" r="3.90" fill="#ff0000"/>
<circle cx="403.27" cy="175.38" r="3.90" fill="#ff0000"/>
<circle cx="404.32" cy="175.39" r="3.90" fill="#ff0000"/>
<circle cx="405.35" cy="175.40" r="3.90" fill="#ff0000"/>
<circle cx="406.38" cy="175.41" r="3.90" fill="#ff0000"/>
<circle cx="407.39" cy="175.42" r="3.90" fill="#ff0000"/>
<circle cx="408.39" cy="175.43" r="3.90" fill="#ff0000"/>
<circle cx="409.38" cy="175.44" r="3.90" fill="#ff0000"/>
<circle cx="410.36" cy="175.45" r="3.90" fill="#ff0000"/>
<circle cx="411.34" cy="175.45" r="3.90" fill="#ff0000"/>
<circle cx="412.30" cy="175.46" r="3.90" fill="#ff0000"/>
</g>
<polyline points="61.55,138.24 93.59,245.10 117.51,291.00 136.62,232.30 152.53,211.92 166.15,201.07 178.07,194.64 188.66,190.46 198.19,187.52 206.85,185.36 214.79,183.74 222.11,182.50 228.92,181.56 235.27,180.84 241.22,180.24 246.82,179.75 252.11,179.34 257.13,178.99 261.89,178.69 266.42,178.44 270.75,178.22 274.89,178.02 278.86,177.85 282.67,177.70 286.33,177.57 289.86,177.45 293.26,177.34 296.54,177.25 299.72,177.16 302.79,177.08 305.76,177.01 308.65,176.94 311.45,176.88 314.17,176.83 316.81,176.78 319.39,176.73 321.89,176.69 324.33,176.65 326.72,176.61 329.04,176.57 331.30,176.54 333.52,176.51 335.68,176.48 337.80,176.45 339.87,176.43 341.89,176.40 343.88,176.38 345.82,176.36 347.73,176.34 349.59,176.32 351.42,176.30 353.22,176.29 354.98,176.27 356.71,176.26 358.41,176.24 360.09,176.23 361.73,176.22 363.34,176.21 364.93,176.19 366.49,176.18 368.02,176.17 369.54,176.16 371.02,176.15 372.49,176.14 373.93,176.14 375.35,176.13 376.75,176.12 378.13,176.11 379.49,176.10 380.83,176.10 382.16,176.09 383.46,176.08 384.75,176.08 386.02,176.07 387.27,176.07 388.51,176.06 389.73,176.06 390.93,176.05 392.12,176.05 393.30,176.04 394.46,176.04 395.61,176.03 396.74,176.03 397.86,176.02 398.97,176.02 400.06,176.02 401.14,176.01 402.21,176.01 403.27,176.01 404.32,176.00 405.35,176.00 406.38,176.00 407.39,175.99 408.39,175.99 409.38,175.99 410.36,175.99 411.34,175.98 412.30,175.98" fill="none" stroke="#ff9d00" stroke-width="1.95" stroke-linejoin="round" clip-path="url(#ct)"/>
<g clip-path="url(#cm)">
<circle cx="93.59" cy="245.10" r="4.00" fill="none" stroke="#ff9d00" stroke-width="1.8"/>
<circle cx="117.51" cy="291.00" r="4.00" fill="none" stroke="#ff9d00" stroke-width="1.8"/>
<circle cx="136.62" cy="232.30" r="4.00" fill="none" stroke="#ff9d00" stroke-width="1.8"/>
<circle cx="152.53" cy="211.92" r="4.00" fill="none" stroke="#ff9d00" stroke-width="1.8"/>
<circle cx="166.15" cy="201.07" r="4.00" fill="none" stroke="#ff9d00" stroke-width="1.8"/>
<circle cx="178.07" cy="194.64" r="4.00" fill="none" stroke="#ff9d00" stroke-width="1.8"/>
<circle cx="188.66" cy="190.46" r="4.00" fill="none" stroke="#ff9d00" stroke-width="1.8"/>
<circle cx="198.19" cy="187.52" r="4.00" fill="none" stroke="#ff9d00" stroke-width="1.8"/>
<circle cx="206.85" cy="185.36" r="4.00" fill="none" stroke="#ff9d00" stroke-width="1.8"/>
<circle cx="214.79" cy="183.74" r="4.00" fill="none" stroke="#ff9d00" stroke-width="1.8"/>
<circle cx="222.11" cy="182.50" r="4.00" fill="none" stroke="#ff9d00" stroke-width="1.8"/>
<circle cx="228.92" cy="181.56" r="4.00" fill="none" stroke="#ff9d00" stroke-width="1.8"/>
<circle cx="235.27" cy="180.84" r="4.00" fill="none" stroke="#ff9d00" stroke-width="1.8"/>
<circle cx="241.22" cy="180.24" r="4.00" fill="none" stroke="#ff9d00" stroke-width="1.8"/>
<circle cx="246.82" cy="179.75" r="4.00" fill="none" stroke="#ff9d00" stroke-width="1.8"/>
<circle cx="252.11" cy="179.34" r="4.00" fill="none" stroke="#ff9d00" stroke-width="1.8"/>
<circle cx="257.13" cy="178.99" r="4.00" fill="none" stroke="#ff9d00" stroke-width="1.8"/>
<circle cx="261.89" cy="178.69" r="4.00" fill="none" stroke="#ff9d00" stroke-width="1.8"/>
<circle cx="266.42" cy="178.44" r="4.00" fill="none" stroke="#ff9d00" stroke-width="1.8"/>
<circle cx="270.75" cy="178.22" r="4.00" fill="none" stroke="#ff9d00" stroke-width="1.8"/>
<circle cx="274.89" cy="178.02" r="4.00" fill="none" stroke="#ff9d00" stroke-width="1.8"/>
<circle cx="278.86" cy="177.85" r="4.00" fill="none" stroke="#ff9d00" stroke-width="1.8"/>
<circle cx="282.67" cy="177.70" r="4.00" fill="none" stroke="#ff9d00" stroke-width="1.8"/>
<circle cx="286.33" cy="177.57" r="4.00" fill="none" stroke="#ff9d00" stroke-width="1.8"/>
<circle cx="289.86" cy="177.45" r="4.00" fill="none" stroke="#ff9d00" stroke-width="1.8"/>
<circle cx="293.26" cy="177.34" r="4.00" fill="none" stroke="#ff9d00" stroke-width="1.8"/>
<circle cx="296.54" cy="177.25" r="4.00" fill="none" stroke="#ff9d00" stroke-width="1.8"/>
<circle cx="299.72" cy="177.16" r="4.00" fill="none" stroke="#ff9d00" stroke-width="1.8"/>
<circle cx="302.79" cy="177.08" r="4.00" fill="none" stroke="#ff9d00" stroke-width="1.8"/>
<circle cx="305.76" cy="177.01" r="4.00" fill="none" stroke="#ff9d00" stroke-width="1.8"/>
<circle cx="308.65" cy="176.94" r="4.00" fill="none" stroke="#ff9d00" stroke-width="1.8"/>
<circle cx="311.45" cy="176.88" r="4.00" fill="none" stroke="#ff9d00" stroke-width="1.8"/>
<circle cx="314.17" cy="176.83" r="4.00" fill="none" stroke="#ff9d00" stroke-width="1.8"/>
<circle cx="316.81" cy="176.78" r="4.00" fill="none" stroke="#ff9d00" stroke-width="1.8"/>
<circle cx="319.39" cy="176.73" r="4.00" fill="none" stroke="#ff9d00" stroke-width="1.8"/>
<circle cx="321.89" cy="176.69" r="4.00" fill="none" stroke="#ff9d00" stroke-width="1.8"/>
<circle cx="324.33" cy="176.65" r="4.00" fill="none" stroke="#ff9d00" stroke-width="1.8"/>
<circle cx="326.72" cy="176.61" r="4.00" fill="none" stroke="#ff9d00" stroke-width="1.8"/>
<circle cx="329.04" cy="176.57" r="4.00" fill="none" stroke="#ff9d00" stroke-width="1.8"/>
<circle cx="331.30" cy="176.54" r="4.00" fill="none" stroke="#ff9d00" stroke-width="1.8"/>
<circle cx="333.52" cy="176.51" r="4.00" fill="none" stroke="#ff9d00" stroke-width="1.8"/>
<circle cx="335.68" cy="176.48" r="4.00" fill="none" stroke="#ff9d00" stroke-width="1.8"/>
<circle cx="337.80" cy="176.45" r="4.00" fill="none" stroke="#ff9d00" stroke-width="1.8"/>
<circle cx="339.87" cy="176.43" r="4.00" fill="none" stroke="#ff9d00" stroke-width="1.8"/>
<circle cx="341.89" cy="176.40" r="4.00" fill="none" stroke="#ff9d00" stroke-width="1.8"/>
<circle cx="343.88" cy="176.38" r="4.00" fill="none" stroke="#ff9d00" stroke-width="1.8"/>
<circle cx="345.82" cy="176.36" r="4.00" fill="none" stroke="#ff9d00" stroke-width="1.8"/>
<circle cx="347.73" cy="176.34" r="4.00" fill="none" stroke="#ff9d00" stroke-width="1.8"/>
<circle cx="349.59" cy="176.32" r="4.00" fill="none" stroke="#ff9d00" stroke-width="1.8"/>
<circle cx="351.42" cy="176.30" r="4.00" fill="none" stroke="#ff9d00" stroke-width="1.8"/>
<circle cx="353.22" cy="176.29" r="4.00" fill="none" stroke="#ff9d00" stroke-width="1.8"/>
<circle cx="354.98" cy="176.27" r="4.00" fill="none" stroke="#ff9d00" stroke-width="1.8"/>
<circle cx="356.71" cy="176.26" r="4.00" fill="none" stroke="#ff9d00" stroke-width="1.8"/>
<circle cx="358.41" cy="176.24" r="4.00" fill="none" stroke="#ff9d00" stroke-width="1.8"/>
<circle cx="360.09" cy="176.23" r="4.00" fill="none" stroke="#ff9d00" stroke-width="1.8"/>
<circle cx="361.73" cy="176.22" r="4.00" fill="none" stroke="#ff9d00" stroke-width="1.8"/>
<circle cx="363.34" cy="176.21" r="4.00" fill="none" stroke="#ff9d00" stroke-width="1.8"/>
<circle cx="364.93" cy="176.19" r="4.00" fill="none" stroke="#ff9d00" stroke-width="1.8"/>
<circle cx="366.49" cy="176.18" r="4.00" fill="none" stroke="#ff9d00" stroke-width="1.8"/>
<circle cx="368.02" cy="176.17" r="4.00" fill="none" stroke="#ff9d00" stroke-width="1.8"/>
<circle cx="369.54" cy="176.16" r="4.00" fill="none" stroke="#ff9d00" stroke-width="1.8"/>
<circle cx="371.02" cy="176.15" r="4.00" fill="none" stroke="#ff9d00" stroke-width="1.8"/>
<circle cx="372.49" cy="176.14" r="4.00" fill="none" stroke="#ff9d00" stroke-width="1.8"/>
<circle cx="373.93" cy="176.14" r="4.00" fill="none" stroke="#ff9d00" stroke-width="1.8"/>
<circle cx="375.35" cy="176.13" r="4.00" fill="none" stroke="#ff9d00" stroke-width="1.8"/>
<circle cx="376.75" cy="176.12" r="4.00" fill="none" stroke="#ff9d00" stroke-width="1.8"/>
<circle cx="378.13" cy="176.11" r="4.00" fill="none" stroke="#ff9d00" stroke-width="1.8"/>
<circle cx="379.49" cy="176.10" r="4.00" fill="none" stroke="#ff9d00" stroke-width="1.8"/>
<circle cx="380.83" cy="176.10" r="4.00" fill="none" stroke="#ff9d00" stroke-width="1.8"/>
<circle cx="382.16" cy="176.09" r="4.00" fill="none" stroke="#ff9d00" stroke-width="1.8"/>
<circle cx="383.46" cy="176.08" r="4.00" fill="none" stroke="#ff9d00" stroke-width="1.8"/>
<circle cx="384.75" cy="176.08" r="4.00" fill="none" stroke="#ff9d00" stroke-width="1.8"/>
<circle cx="386.02" cy="176.07" r="4.00" fill="none" stroke="#ff9d00" stroke-width="1.8"/>
<circle cx="387.27" cy="176.07" r="4.00" fill="none" stroke="#ff9d00" stroke-width="1.8"/>
<circle cx="388.51" cy="176.06" r="4.00" fill="none" stroke="#ff9d00" stroke-width="1.8"/>
<circle cx="389.73" cy="176.06" r="4.00" fill="none" stroke="#ff9d00" stroke-width="1.8"/>
<circle cx="390.93" cy="176.05" r="4.00" fill="none" stroke="#ff9d00" stroke-width="1.8"/>
<circle cx="392.12" cy="176.05" r="4.00" fill="none" stroke="#ff9d00" stroke-width="1.8"/>
<circle cx="393.30" cy="176.04" r="4.00" fill="none" stroke="#ff9d00" stroke-width="1.8"/>
<circle cx="394.46" cy="176.04" r="4.00" fill="none" stroke="#ff9d00" stroke-width="1.8"/>
<circle cx="395.61" cy="176.03" r="4.00" fill="none" stroke="#ff9d00" stroke-width="1.8"/>
<circle cx="396.74" cy="176.03" r="4.00" fill="none" stroke="#ff9d00" stroke-width="1.8"/>
<circle cx="397.86" cy="176.02" r="4.00" fill="none" stroke="#ff9d00" stroke-width="1.8"/>
<circle cx="398.97" cy="176.02" r="4.00" fill="none" stroke="#ff9d00" stroke-width="1.8"/>
<circle cx="400.06" cy="176.02" r="4.00" fill="none" stroke="#ff9d00" stroke-width="1.8"/>
<circle cx="401.14" cy="176.01" r="4.00" fill="none" stroke="#ff9d00" stroke-width="1.8"/>
<circle cx="402.21" cy="176.01" r="4.00" fill="none" stroke="#ff9d00" stroke-width="1.8"/>
<circle cx="403.27" cy="176.01" r="4.00" fill="none" stroke="#ff9d00" stroke-width="1.8"/>
<circle cx="404.32" cy="176.00" r="4.00" fill="none" stroke="#ff9d00" stroke-width="1.8"/>
<circle cx="405.35" cy="176.00" r="4.00" fill="none" stroke="#ff9d00" stroke-width="1.8"/>
<circle cx="406.38" cy="176.00" r="4.00" fill="none" stroke="#ff9d00" stroke-width="1.8"/>
<circle cx="407.39" cy="175.99" r="4.00" fill="none" stroke="#ff9d00" stroke-width="1.8"/>
<circle cx="408.39" cy="175.99" r="4.00" fill="none" stroke="#ff9d00" stroke-width="1.8"/>
<circle cx="409.38" cy="175.99" r="4.00" fill="none" stroke="#ff9d00" stroke-width="1.8"/>
<circle cx="410.36" cy="175.99" r="4.00" fill="none" stroke="#ff9d00" stroke-width="1.8"/>
<circle cx="411.34" cy="175.98" r="4.00" fill="none" stroke="#ff9d00" stroke-width="1.8"/>
<circle cx="412.30" cy="175.98" r="4.00" fill="none" stroke="#ff9d00" stroke-width="1.8"/>
</g>
<polyline points="61.55,70.19 93.59,136.10 117.51,204.70 136.62,312.40 152.53,281.40 166.15,238.70 178.07,220.20 188.66,208.83 198.19,201.46 206.85,196.32 214.79,192.62 222.11,189.84 228.92,187.77 235.27,186.19 241.22,184.92 246.82,183.87 252.11,183.00 257.13,182.27 261.89,181.65 266.42,181.12 270.75,180.66 274.89,180.26 278.86,179.91 282.67,179.60 286.33,179.33 289.86,179.08 293.26,178.87 296.54,178.67 299.72,178.49 302.79,178.33 305.76,178.18 308.65,178.05 311.45,177.93 314.17,177.82 316.81,177.72 319.39,177.62 321.89,177.53 324.33,177.45 326.72,177.38 329.04,177.30 331.30,177.24 333.52,177.17 335.68,177.12 337.80,177.06 339.87,177.01 341.89,176.96 343.88,176.92 345.82,176.87 347.73,176.84 349.59,176.80 351.42,176.76 353.22,176.73 354.98,176.70 356.71,176.67 358.41,176.64 360.09,176.61 361.73,176.59 363.34,176.56 364.93,176.54 366.49,176.52 368.02,176.50 369.54,176.48 371.02,176.46 372.49,176.44 373.93,176.42 375.35,176.41 376.75,176.39 378.13,176.37 379.49,176.36 380.83,176.35 382.16,176.33 383.46,176.32 384.75,176.31 386.02,176.30 387.27,176.28 388.51,176.27 389.73,176.26 390.93,176.25 392.12,176.24 393.30,176.23 394.46,176.22 395.61,176.22 396.74,176.21 397.86,176.20 398.97,176.19 400.06,176.18 401.14,176.18 402.21,176.17 403.27,176.16 404.32,176.16 405.35,176.15 406.38,176.14 407.39,176.14 408.39,176.13 409.38,176.13 410.36,176.12 411.34,176.12 412.30,176.11" fill="none" stroke="#00b6ff" stroke-width="1.95" stroke-linejoin="round" clip-path="url(#ct)"/>
<g clip-path="url(#cm)">
<polygon points="93.59,132.75 96.49,137.78 90.68,137.78" fill="none" stroke="#00b6ff" stroke-width="1.8" stroke-linejoin="miter"/>
<polygon points="117.51,201.35 120.41,206.38 114.61,206.38" fill="none" stroke="#00b6ff" stroke-width="1.8" stroke-linejoin="miter"/>
<polygon points="136.62,309.05 139.52,314.07 133.72,314.07" fill="none" stroke="#00b6ff" stroke-width="1.8" stroke-linejoin="miter"/>
<polygon points="152.53,278.05 155.43,283.07 149.62,283.07" fill="none" stroke="#00b6ff" stroke-width="1.8" stroke-linejoin="miter"/>
<polygon points="166.15,235.35 169.05,240.38 163.25,240.38" fill="none" stroke="#00b6ff" stroke-width="1.8" stroke-linejoin="miter"/>
<polygon points="178.07,216.85 180.97,221.87 175.17,221.87" fill="none" stroke="#00b6ff" stroke-width="1.8" stroke-linejoin="miter"/>
<polygon points="188.66,205.48 191.56,210.51 185.76,210.51" fill="none" stroke="#00b6ff" stroke-width="1.8" stroke-linejoin="miter"/>
<polygon points="198.19,198.11 201.09,203.14 195.29,203.14" fill="none" stroke="#00b6ff" stroke-width="1.8" stroke-linejoin="miter"/>
<polygon points="206.85,192.97 209.75,198.00 203.95,198.00" fill="none" stroke="#00b6ff" stroke-width="1.8" stroke-linejoin="miter"/>
<polygon points="214.79,189.27 217.69,194.29 211.89,194.29" fill="none" stroke="#00b6ff" stroke-width="1.8" stroke-linejoin="miter"/>
<polygon points="222.11,186.49 225.02,191.52 219.21,191.52" fill="none" stroke="#00b6ff" stroke-width="1.8" stroke-linejoin="miter"/>
<polygon points="228.92,184.42 231.82,189.45 226.02,189.45" fill="none" stroke="#00b6ff" stroke-width="1.8" stroke-linejoin="miter"/>
<polygon points="235.27,182.84 238.17,187.87 232.37,187.87" fill="none" stroke="#00b6ff" stroke-width="1.8" stroke-linejoin="miter"/>
<polygon points="241.22,181.57 244.12,186.59 238.32,186.59" fill="none" stroke="#00b6ff" stroke-width="1.8" stroke-linejoin="miter"/>
<polygon points="246.82,180.52 249.72,185.54 243.92,185.54" fill="none" stroke="#00b6ff" stroke-width="1.8" stroke-linejoin="miter"/>
<polygon points="252.11,179.65 255.01,184.68 249.21,184.68" fill="none" stroke="#00b6ff" stroke-width="1.8" stroke-linejoin="miter"/>
<polygon points="257.13,178.92 260.03,183.95 254.22,183.95" fill="none" stroke="#00b6ff" stroke-width="1.8" stroke-linejoin="miter"/>
<polygon points="261.89,178.30 264.79,183.33 258.99,183.33" fill="none" stroke="#00b6ff" stroke-width="1.8" stroke-linejoin="miter"/>
<polygon points="266.42,177.77 269.32,182.80 263.52,182.80" fill="none" stroke="#00b6ff" stroke-width="1.8" stroke-linejoin="miter"/>
<polygon points="270.75,177.31 273.65,182.34 267.85,182.34" fill="none" stroke="#00b6ff" stroke-width="1.8" stroke-linejoin="miter"/>
<polygon points="274.89,176.91 277.79,181.94 271.99,181.94" fill="none" stroke="#00b6ff" stroke-width="1.8" stroke-linejoin="miter"/>
<polygon points="278.86,176.56 281.76,181.59 275.96,181.59" fill="none" stroke="#00b6ff" stroke-width="1.8" stroke-linejoin="miter"/>
<polygon points="282.67,176.25 285.57,181.28 279.77,181.28" fill="none" stroke="#00b6ff" stroke-width="1.8" stroke-linejoin="miter"/>
<polygon points="286.33,175.98 289.23,181.00 283.43,181.00" fill="none" stroke="#00b6ff" stroke-width="1.8" stroke-linejoin="miter"/>
<polygon points="289.86,175.73 292.76,180.76 286.96,180.76" fill="none" stroke="#00b6ff" stroke-width="1.8" stroke-linejoin="miter"/>
<polygon points="293.26,175.52 296.16,180.54 290.36,180.54" fill="none" stroke="#00b6ff" stroke-width="1.8" stroke-linejoin="miter"/>
<polygon points="296.54,175.32 299.44,180.34 293.64,180.34" fill="none" stroke="#00b6ff" stroke-width="1.8" stroke-linejoin="miter"/>
<polygon points="299.72,175.14 302.62,180.17 296.81,180.17" fill="none" stroke="#00b6ff" stroke-width="1.8" stroke-linejoin="miter"/>
<polygon points="302.79,174.98 305.69,180.01 299.89,180.01" fill="none" stroke="#00b6ff" stroke-width="1.8" stroke-linejoin="miter"/>
<polygon points="305.76,174.83 308.66,179.86 302.86,179.86" fill="none" stroke="#00b6ff" stroke-width="1.8" stroke-linejoin="miter"/>
<polygon points="308.65,174.70 311.55,179.73 305.75,179.73" fill="none" stroke="#00b6ff" stroke-width="1.8" stroke-linejoin="miter"/>
<polygon points="311.45,174.58 314.35,179.60 308.55,179.60" fill="none" stroke="#00b6ff" stroke-width="1.8" stroke-linejoin="miter"/>
<polygon points="314.17,174.47 317.07,179.49 311.27,179.49" fill="none" stroke="#00b6ff" stroke-width="1.8" stroke-linejoin="miter"/>
<polygon points="316.81,174.37 319.72,179.39 313.91,179.39" fill="none" stroke="#00b6ff" stroke-width="1.8" stroke-linejoin="miter"/>
<polygon points="319.39,174.27 322.29,179.30 316.49,179.30" fill="none" stroke="#00b6ff" stroke-width="1.8" stroke-linejoin="miter"/>
<polygon points="321.89,174.18 324.79,179.21 318.99,179.21" fill="none" stroke="#00b6ff" stroke-width="1.8" stroke-linejoin="miter"/>
<polygon points="324.33,174.10 327.24,179.13 321.43,179.13" fill="none" stroke="#00b6ff" stroke-width="1.8" stroke-linejoin="miter"/>
<polygon points="326.72,174.03 329.62,179.05 323.81,179.05" fill="none" stroke="#00b6ff" stroke-width="1.8" stroke-linejoin="miter"/>
<polygon points="329.04,173.95 331.94,178.98 326.14,178.98" fill="none" stroke="#00b6ff" stroke-width="1.8" stroke-linejoin="miter"/>
<polygon points="331.30,173.89 334.21,178.91 328.40,178.91" fill="none" stroke="#00b6ff" stroke-width="1.8" stroke-linejoin="miter"/>
<polygon points="333.52,173.82 336.42,178.85 330.62,178.85" fill="none" stroke="#00b6ff" stroke-width="1.8" stroke-linejoin="miter"/>
<polygon points="335.68,173.77 338.58,178.79 332.78,178.79" fill="none" stroke="#00b6ff" stroke-width="1.8" stroke-linejoin="miter"/>
<polygon points="337.80,173.71 340.70,178.74 334.90,178.74" fill="none" stroke="#00b6ff" stroke-width="1.8" stroke-linejoin="miter"/>
<polygon points="339.87,173.66 342.77,178.69 336.97,178.69" fill="none" stroke="#00b6ff" stroke-width="1.8" stroke-linejoin="miter"/>
<polygon points="341.89,173.61 344.80,178.64 338.99,178.64" fill="none" stroke="#00b6ff" stroke-width="1.8" stroke-linejoin="miter"/>
<polygon points="343.88,173.57 346.78,178.59 340.98,178.59" fill="none" stroke="#00b6ff" stroke-width="1.8" stroke-linejoin="miter"/>
<polygon points="345.82,173.52 348.72,178.55 342.92,178.55" fill="none" stroke="#00b6ff" stroke-width="1.8" stroke-linejoin="miter"/>
<polygon points="347.73,173.49 350.63,178.51 344.82,178.51" fill="none" stroke="#00b6ff" stroke-width="1.8" stroke-linejoin="miter"/>
<polygon points="349.59,173.45 352.49,178.47 346.69,178.47" fill="none" stroke="#00b6ff" stroke-width="1.8" stroke-linejoin="miter"/>
<polygon points="351.42,173.41 354.32,178.44 348.52,178.44" fill="none" stroke="#00b6ff" stroke-width="1.8" stroke-linejoin="miter"/>
<polygon points="353.22,173.38 356.12,178.40 350.32,178.40" fill="none" stroke="#00b6ff" stroke-width="1.8" stroke-linejoin="miter"/>
<polygon points="354.98,173.35 357.88,178.37 352.08,178.37" fill="none" stroke="#00b6ff" stroke-width="1.8" stroke-linejoin="miter"/>
<polygon points="356.71,173.32 359.62,178.34 353.81,178.34" fill="none" stroke="#00b6ff" stroke-width="1.8" stroke-linejoin="miter"/>
<polygon points="358.41,173.29 361.32,178.31 355.51,178.31" fill="none" stroke="#00b6ff" stroke-width="1.8" stroke-linejoin="miter"/>
<polygon points="360.09,173.26 362.99,178.29 357.18,178.29" fill="none" stroke="#00b6ff" stroke-width="1.8" stroke-linejoin="miter"/>
<polygon points="361.73,173.24 364.63,178.26 358.83,178.26" fill="none" stroke="#00b6ff" stroke-width="1.8" stroke-linejoin="miter"/>
<polygon points="363.34,173.21 366.24,178.24 360.44,178.24" fill="none" stroke="#00b6ff" stroke-width="1.8" stroke-linejoin="miter"/>
<polygon points="364.93,173.19 367.83,178.21 362.03,178.21" fill="none" stroke="#00b6ff" stroke-width="1.8" stroke-linejoin="miter"/>
<polygon points="366.49,173.17 369.39,178.19 363.59,178.19" fill="none" stroke="#00b6ff" stroke-width="1.8" stroke-linejoin="miter"/>
<polygon points="368.02,173.15 370.93,178.17 365.12,178.17" fill="none" stroke="#00b6ff" stroke-width="1.8" stroke-linejoin="miter"/>
<polygon points="369.54,173.13 372.44,178.15 366.63,178.15" fill="none" stroke="#00b6ff" stroke-width="1.8" stroke-linejoin="miter"/>
<polygon points="371.02,173.11 373.92,178.13 368.12,178.13" fill="none" stroke="#00b6ff" stroke-width="1.8" stroke-linejoin="miter"/>
<polygon points="372.49,173.09 375.39,178.11 369.59,178.11" fill="none" stroke="#00b6ff" stroke-width="1.8" stroke-linejoin="miter"/>
<polygon points="373.93,173.07 376.83,178.10 371.03,178.10" fill="none" stroke="#00b6ff" stroke-width="1.8" stroke-linejoin="miter"/>
<polygon points="375.35,173.06 378.25,178.08 372.45,178.08" fill="none" stroke="#00b6ff" stroke-width="1.8" stroke-linejoin="miter"/>
<polygon points="376.75,173.04 379.65,178.06 373.85,178.06" fill="none" stroke="#00b6ff" stroke-width="1.8" stroke-linejoin="miter"/>
<polygon points="378.13,173.02 381.03,178.05 375.23,178.05" fill="none" stroke="#00b6ff" stroke-width="1.8" stroke-linejoin="miter"/>
<polygon points="379.49,173.01 382.39,178.04 376.59,178.04" fill="none" stroke="#00b6ff" stroke-width="1.8" stroke-linejoin="miter"/>
<polygon points="380.83,173.00 383.73,178.02 377.93,178.02" fill="none" stroke="#00b6ff" stroke-width="1.8" stroke-linejoin="miter"/>
<polygon points="382.16,172.98 385.06,178.01 379.25,178.01" fill="none" stroke="#00b6ff" stroke-width="1.8" stroke-linejoin="miter"/>
<polygon points="383.46,172.97 386.36,178.00 380.56,178.00" fill="none" stroke="#00b6ff" stroke-width="1.8" stroke-linejoin="miter"/>
<polygon points="384.75,172.96 387.65,177.98 381.85,177.98" fill="none" stroke="#00b6ff" stroke-width="1.8" stroke-linejoin="miter"/>
<polygon points="386.02,172.95 388.92,177.97 383.11,177.97" fill="none" stroke="#00b6ff" stroke-width="1.8" stroke-linejoin="miter"/>
<polygon points="387.27,172.93 390.17,177.96 384.37,177.96" fill="none" stroke="#00b6ff" stroke-width="1.8" stroke-linejoin="miter"/>
<polygon points="388.51,172.92 391.41,177.95 385.60,177.95" fill="none" stroke="#00b6ff" stroke-width="1.8" stroke-linejoin="miter"/>
<polygon points="389.73,172.91 392.63,177.94 386.82,177.94" fill="none" stroke="#00b6ff" stroke-width="1.8" stroke-linejoin="miter"/>
<polygon points="390.93,172.90 393.83,177.93 388.03,177.93" fill="none" stroke="#00b6ff" stroke-width="1.8" stroke-linejoin="miter"/>
<polygon points="392.12,172.89 395.02,177.92 389.22,177.92" fill="none" stroke="#00b6ff" stroke-width="1.8" stroke-linejoin="miter"/>
<polygon points="393.30,172.88 396.20,177.91 390.40,177.91" fill="none" stroke="#00b6ff" stroke-width="1.8" stroke-linejoin="miter"/>
<polygon points="394.46,172.87 397.36,177.90 391.56,177.90" fill="none" stroke="#00b6ff" stroke-width="1.8" stroke-linejoin="miter"/>
<polygon points="395.61,172.87 398.51,177.89 392.70,177.89" fill="none" stroke="#00b6ff" stroke-width="1.8" stroke-linejoin="miter"/>
<polygon points="396.74,172.86 399.64,177.88 393.84,177.88" fill="none" stroke="#00b6ff" stroke-width="1.8" stroke-linejoin="miter"/>
<polygon points="397.86,172.85 400.76,177.87 394.96,177.87" fill="none" stroke="#00b6ff" stroke-width="1.8" stroke-linejoin="miter"/>
<polygon points="398.97,172.84 401.87,177.87 396.06,177.87" fill="none" stroke="#00b6ff" stroke-width="1.8" stroke-linejoin="miter"/>
<polygon points="400.06,172.83 402.96,177.86 397.16,177.86" fill="none" stroke="#00b6ff" stroke-width="1.8" stroke-linejoin="miter"/>
<polygon points="401.14,172.83 404.04,177.85 398.24,177.85" fill="none" stroke="#00b6ff" stroke-width="1.8" stroke-linejoin="miter"/>
<polygon points="402.21,172.82 405.11,177.84 399.31,177.84" fill="none" stroke="#00b6ff" stroke-width="1.8" stroke-linejoin="miter"/>
<polygon points="403.27,172.81 406.17,177.84 400.37,177.84" fill="none" stroke="#00b6ff" stroke-width="1.8" stroke-linejoin="miter"/>
<polygon points="404.32,172.81 407.22,177.83 401.42,177.83" fill="none" stroke="#00b6ff" stroke-width="1.8" stroke-linejoin="miter"/>
<polygon points="405.35,172.80 408.25,177.83 402.45,177.83" fill="none" stroke="#00b6ff" stroke-width="1.8" stroke-linejoin="miter"/>
<polygon points="406.38,172.79 409.28,177.82 403.47,177.82" fill="none" stroke="#00b6ff" stroke-width="1.8" stroke-linejoin="miter"/>
<polygon points="407.39,172.79 410.29,177.81 404.49,177.81" fill="none" stroke="#00b6ff" stroke-width="1.8" stroke-linejoin="miter"/>
<polygon points="408.39,172.78 411.29,177.81 405.49,177.81" fill="none" stroke="#00b6ff" stroke-width="1.8" stroke-linejoin="miter"/>
<polygon points="409.38,172.78 412.28,177.80 406.48,177.80" fill="none" stroke="#00b6ff" stroke-width="1.8" stroke-linejoin="miter"/>
<polygon points="410.36,172.77 413.26,177.80 407.46,177.80" fill="none" stroke="#00b6ff" stroke-width="1.8" stroke-linejoin="miter"/>
<polygon points="411.34,172.77 414.24,177.79 408.43,177.79" fill="none" stroke="#00b6ff" stroke-width="1.8" stroke-linejoin="miter"/>
<polygon points="412.30,172.76 415.20,177.79 409.40,177.79" fill="none" stroke="#00b6ff" stroke-width="1.8" stroke-linejoin="miter"/>
</g>
<polyline points="61.55,35.97 93.59,94.61 117.51,147.51 136.62,204.70 152.53,286.00 166.15,312.70 178.07,257.20 188.66,233.63 198.19,218.81 206.85,209.28 214.79,202.75 222.11,198.02 228.92,194.57 235.27,191.99 241.22,189.92 246.82,188.24 252.11,186.86 257.13,185.72 261.89,184.74 266.42,183.91 270.75,183.20 274.89,182.58 278.86,182.03 282.67,181.56 286.33,181.13 289.86,180.76 293.26,180.42 296.54,180.12 299.72,179.85 302.79,179.60 305.76,179.38 308.65,179.18 311.45,178.99 314.17,178.82 316.81,178.67 319.39,178.52 321.89,178.39 324.33,178.27 326.72,178.15 329.04,178.04 331.30,177.94 333.52,177.85 335.68,177.76 337.80,177.67 339.87,177.60 341.89,177.52 343.88,177.46 345.82,177.39 347.73,177.33 349.59,177.28 351.42,177.22 353.22,177.17 354.98,177.12 356.71,177.08 358.41,177.04 360.09,177.00 361.73,176.96 363.34,176.92 364.93,176.89 366.49,176.85 368.02,176.82 369.54,176.79 371.02,176.76 372.49,176.74 373.93,176.71 375.35,176.69 376.75,176.66 378.13,176.64 379.49,176.62 380.83,176.60 382.16,176.58 383.46,176.56 384.75,176.54 386.02,176.52 387.27,176.50 388.51,176.49 389.73,176.47 390.93,176.46 392.12,176.44 393.30,176.43 394.46,176.41 395.61,176.40 396.74,176.39 397.86,176.38 398.97,176.36 400.06,176.35 401.14,176.34 402.21,176.33 403.27,176.32 404.32,176.31 405.35,176.30 406.38,176.29 407.39,176.28 408.39,176.27 409.38,176.26 410.36,176.26 411.34,176.25 412.30,176.24" fill="none" stroke="#00c000" stroke-width="1.95" stroke-linejoin="round" clip-path="url(#ct)"/>
<g clip-path="url(#cm)">
<rect x="90.74" y="91.76" width="5.70" height="5.70" fill="none" stroke="#00c000" stroke-width="1.8"/>
<rect x="114.66" y="144.66" width="5.70" height="5.70" fill="none" stroke="#00c000" stroke-width="1.8"/>
<rect x="133.77" y="201.85" width="5.70" height="5.70" fill="none" stroke="#00c000" stroke-width="1.8"/>
<rect x="149.68" y="283.15" width="5.70" height="5.70" fill="none" stroke="#00c000" stroke-width="1.8"/>
<rect x="163.30" y="309.85" width="5.70" height="5.70" fill="none" stroke="#00c000" stroke-width="1.8"/>
<rect x="175.22" y="254.35" width="5.70" height="5.70" fill="none" stroke="#00c000" stroke-width="1.8"/>
<rect x="185.81" y="230.78" width="5.70" height="5.70" fill="none" stroke="#00c000" stroke-width="1.8"/>
<rect x="195.34" y="215.96" width="5.70" height="5.70" fill="none" stroke="#00c000" stroke-width="1.8"/>
<rect x="204.00" y="206.43" width="5.70" height="5.70" fill="none" stroke="#00c000" stroke-width="1.8"/>
<rect x="211.94" y="199.90" width="5.70" height="5.70" fill="none" stroke="#00c000" stroke-width="1.8"/>
<rect x="219.26" y="195.17" width="5.70" height="5.70" fill="none" stroke="#00c000" stroke-width="1.8"/>
<rect x="226.07" y="191.72" width="5.70" height="5.70" fill="none" stroke="#00c000" stroke-width="1.8"/>
<rect x="232.42" y="189.14" width="5.70" height="5.70" fill="none" stroke="#00c000" stroke-width="1.8"/>
<rect x="238.37" y="187.07" width="5.70" height="5.70" fill="none" stroke="#00c000" stroke-width="1.8"/>
<rect x="243.97" y="185.39" width="5.70" height="5.70" fill="none" stroke="#00c000" stroke-width="1.8"/>
<rect x="249.26" y="184.01" width="5.70" height="5.70" fill="none" stroke="#00c000" stroke-width="1.8"/>
<rect x="254.28" y="182.87" width="5.70" height="5.70" fill="none" stroke="#00c000" stroke-width="1.8"/>
<rect x="259.04" y="181.89" width="5.70" height="5.70" fill="none" stroke="#00c000" stroke-width="1.8"/>
<rect x="263.57" y="181.06" width="5.70" height="5.70" fill="none" stroke="#00c000" stroke-width="1.8"/>
<rect x="267.90" y="180.35" width="5.70" height="5.70" fill="none" stroke="#00c000" stroke-width="1.8"/>
<rect x="272.04" y="179.73" width="5.70" height="5.70" fill="none" stroke="#00c000" stroke-width="1.8"/>
<rect x="276.01" y="179.18" width="5.70" height="5.70" fill="none" stroke="#00c000" stroke-width="1.8"/>
<rect x="279.82" y="178.71" width="5.70" height="5.70" fill="none" stroke="#00c000" stroke-width="1.8"/>
<rect x="283.48" y="178.28" width="5.70" height="5.70" fill="none" stroke="#00c000" stroke-width="1.8"/>
<rect x="287.01" y="177.91" width="5.70" height="5.70" fill="none" stroke="#00c000" stroke-width="1.8"/>
<rect x="290.41" y="177.57" width="5.70" height="5.70" fill="none" stroke="#00c000" stroke-width="1.8"/>
<rect x="293.69" y="177.27" width="5.70" height="5.70" fill="none" stroke="#00c000" stroke-width="1.8"/>
<rect x="296.87" y="177.00" width="5.70" height="5.70" fill="none" stroke="#00c000" stroke-width="1.8"/>
<rect x="299.94" y="176.75" width="5.70" height="5.70" fill="none" stroke="#00c000" stroke-width="1.8"/>
<rect x="302.91" y="176.53" width="5.70" height="5.70" fill="none" stroke="#00c000" stroke-width="1.8"/>
<rect x="305.80" y="176.33" width="5.70" height="5.70" fill="none" stroke="#00c000" stroke-width="1.8"/>
<rect x="308.60" y="176.14" width="5.70" height="5.70" fill="none" stroke="#00c000" stroke-width="1.8"/>
<rect x="311.32" y="175.97" width="5.70" height="5.70" fill="none" stroke="#00c000" stroke-width="1.8"/>
<rect x="313.96" y="175.82" width="5.70" height="5.70" fill="none" stroke="#00c000" stroke-width="1.8"/>
<rect x="316.54" y="175.67" width="5.70" height="5.70" fill="none" stroke="#00c000" stroke-width="1.8"/>
<rect x="319.04" y="175.54" width="5.70" height="5.70" fill="none" stroke="#00c000" stroke-width="1.8"/>
<rect x="321.48" y="175.42" width="5.70" height="5.70" fill="none" stroke="#00c000" stroke-width="1.8"/>
<rect x="323.87" y="175.30" width="5.70" height="5.70" fill="none" stroke="#00c000" stroke-width="1.8"/>
<rect x="326.19" y="175.19" width="5.70" height="5.70" fill="none" stroke="#00c000" stroke-width="1.8"/>
<rect x="328.45" y="175.09" width="5.70" height="5.70" fill="none" stroke="#00c000" stroke-width="1.8"/>
<rect x="330.67" y="175.00" width="5.70" height="5.70" fill="none" stroke="#00c000" stroke-width="1.8"/>
<rect x="332.83" y="174.91" width="5.70" height="5.70" fill="none" stroke="#00c000" stroke-width="1.8"/>
<rect x="334.95" y="174.82" width="5.70" height="5.70" fill="none" stroke="#00c000" stroke-width="1.8"/>
<rect x="337.02" y="174.75" width="5.70" height="5.70" fill="none" stroke="#00c000" stroke-width="1.8"/>
<rect x="339.04" y="174.67" width="5.70" height="5.70" fill="none" stroke="#00c000" stroke-width="1.8"/>
<rect x="341.03" y="174.61" width="5.70" height="5.70" fill="none" stroke="#00c000" stroke-width="1.8"/>
<rect x="342.97" y="174.54" width="5.70" height="5.70" fill="none" stroke="#00c000" stroke-width="1.8"/>
<rect x="344.88" y="174.48" width="5.70" height="5.70" fill="none" stroke="#00c000" stroke-width="1.8"/>
<rect x="346.74" y="174.43" width="5.70" height="5.70" fill="none" stroke="#00c000" stroke-width="1.8"/>
<rect x="348.57" y="174.37" width="5.70" height="5.70" fill="none" stroke="#00c000" stroke-width="1.8"/>
<rect x="350.37" y="174.32" width="5.70" height="5.70" fill="none" stroke="#00c000" stroke-width="1.8"/>
<rect x="352.13" y="174.27" width="5.70" height="5.70" fill="none" stroke="#00c000" stroke-width="1.8"/>
<rect x="353.86" y="174.23" width="5.70" height="5.70" fill="none" stroke="#00c000" stroke-width="1.8"/>
<rect x="355.56" y="174.19" width="5.70" height="5.70" fill="none" stroke="#00c000" stroke-width="1.8"/>
<rect x="357.24" y="174.15" width="5.70" height="5.70" fill="none" stroke="#00c000" stroke-width="1.8"/>
<rect x="358.88" y="174.11" width="5.70" height="5.70" fill="none" stroke="#00c000" stroke-width="1.8"/>
<rect x="360.49" y="174.07" width="5.70" height="5.70" fill="none" stroke="#00c000" stroke-width="1.8"/>
<rect x="362.08" y="174.04" width="5.70" height="5.70" fill="none" stroke="#00c000" stroke-width="1.8"/>
<rect x="363.64" y="174.00" width="5.70" height="5.70" fill="none" stroke="#00c000" stroke-width="1.8"/>
<rect x="365.17" y="173.97" width="5.70" height="5.70" fill="none" stroke="#00c000" stroke-width="1.8"/>
<rect x="366.69" y="173.94" width="5.70" height="5.70" fill="none" stroke="#00c000" stroke-width="1.8"/>
<rect x="368.17" y="173.91" width="5.70" height="5.70" fill="none" stroke="#00c000" stroke-width="1.8"/>
<rect x="369.64" y="173.89" width="5.70" height="5.70" fill="none" stroke="#00c000" stroke-width="1.8"/>
<rect x="371.08" y="173.86" width="5.70" height="5.70" fill="none" stroke="#00c000" stroke-width="1.8"/>
<rect x="372.50" y="173.84" width="5.70" height="5.70" fill="none" stroke="#00c000" stroke-width="1.8"/>
<rect x="373.90" y="173.81" width="5.70" height="5.70" fill="none" stroke="#00c000" stroke-width="1.8"/>
<rect x="375.28" y="173.79" width="5.70" height="5.70" fill="none" stroke="#00c000" stroke-width="1.8"/>
<rect x="376.64" y="173.77" width="5.70" height="5.70" fill="none" stroke="#00c000" stroke-width="1.8"/>
<rect x="377.98" y="173.75" width="5.70" height="5.70" fill="none" stroke="#00c000" stroke-width="1.8"/>
<rect x="379.31" y="173.73" width="5.70" height="5.70" fill="none" stroke="#00c000" stroke-width="1.8"/>
<rect x="380.61" y="173.71" width="5.70" height="5.70" fill="none" stroke="#00c000" stroke-width="1.8"/>
<rect x="381.90" y="173.69" width="5.70" height="5.70" fill="none" stroke="#00c000" stroke-width="1.8"/>
<rect x="383.17" y="173.67" width="5.70" height="5.70" fill="none" stroke="#00c000" stroke-width="1.8"/>
<rect x="384.42" y="173.65" width="5.70" height="5.70" fill="none" stroke="#00c000" stroke-width="1.8"/>
<rect x="385.66" y="173.64" width="5.70" height="5.70" fill="none" stroke="#00c000" stroke-width="1.8"/>
<rect x="386.88" y="173.62" width="5.70" height="5.70" fill="none" stroke="#00c000" stroke-width="1.8"/>
<rect x="388.08" y="173.61" width="5.70" height="5.70" fill="none" stroke="#00c000" stroke-width="1.8"/>
<rect x="389.27" y="173.59" width="5.70" height="5.70" fill="none" stroke="#00c000" stroke-width="1.8"/>
<rect x="390.45" y="173.58" width="5.70" height="5.70" fill="none" stroke="#00c000" stroke-width="1.8"/>
<rect x="391.61" y="173.56" width="5.70" height="5.70" fill="none" stroke="#00c000" stroke-width="1.8"/>
<rect x="392.76" y="173.55" width="5.70" height="5.70" fill="none" stroke="#00c000" stroke-width="1.8"/>
<rect x="393.89" y="173.54" width="5.70" height="5.70" fill="none" stroke="#00c000" stroke-width="1.8"/>
<rect x="395.01" y="173.53" width="5.70" height="5.70" fill="none" stroke="#00c000" stroke-width="1.8"/>
<rect x="396.12" y="173.51" width="5.70" height="5.70" fill="none" stroke="#00c000" stroke-width="1.8"/>
<rect x="397.21" y="173.50" width="5.70" height="5.70" fill="none" stroke="#00c000" stroke-width="1.8"/>
<rect x="398.29" y="173.49" width="5.70" height="5.70" fill="none" stroke="#00c000" stroke-width="1.8"/>
<rect x="399.36" y="173.48" width="5.70" height="5.70" fill="none" stroke="#00c000" stroke-width="1.8"/>
<rect x="400.42" y="173.47" width="5.70" height="5.70" fill="none" stroke="#00c000" stroke-width="1.8"/>
<rect x="401.47" y="173.46" width="5.70" height="5.70" fill="none" stroke="#00c000" stroke-width="1.8"/>
<rect x="402.50" y="173.45" width="5.70" height="5.70" fill="none" stroke="#00c000" stroke-width="1.8"/>
<rect x="403.53" y="173.44" width="5.70" height="5.70" fill="none" stroke="#00c000" stroke-width="1.8"/>
<rect x="404.54" y="173.43" width="5.70" height="5.70" fill="none" stroke="#00c000" stroke-width="1.8"/>
<rect x="405.54" y="173.42" width="5.70" height="5.70" fill="none" stroke="#00c000" stroke-width="1.8"/>
<rect x="406.53" y="173.41" width="5.70" height="5.70" fill="none" stroke="#00c000" stroke-width="1.8"/>
<rect x="407.51" y="173.41" width="5.70" height="5.70" fill="none" stroke="#00c000" stroke-width="1.8"/>
<rect x="408.49" y="173.40" width="5.70" height="5.70" fill="none" stroke="#00c000" stroke-width="1.8"/>
<rect x="409.45" y="173.39" width="5.70" height="5.70" fill="none" stroke="#00c000" stroke-width="1.8"/>
</g>
<polyline points="106.80,466.70 211.40,490.40 260.04,495.60 292.07,499.30 316.00,501.30 335.11,502.10 351.01,502.38 364.64,502.83 376.55,503.13 387.14,503.35 396.67,503.50 405.34,503.62" fill="none" stroke="#000000" stroke-width="1.95" stroke-linejoin="round"/>
<rect x="103.95" y="463.85" width="5.70" height="5.70" fill="none" stroke="#000000" stroke-width="1.8"/>
<rect x="208.55" y="487.55" width="5.70" height="5.70" fill="none" stroke="#000000" stroke-width="1.8"/>
<rect x="257.19" y="492.75" width="5.70" height="5.70" fill="none" stroke="#000000" stroke-width="1.8"/>
<rect x="289.22" y="496.45" width="5.70" height="5.70" fill="none" stroke="#000000" stroke-width="1.8"/>
<rect x="313.15" y="498.45" width="5.70" height="5.70" fill="none" stroke="#000000" stroke-width="1.8"/>
<rect x="332.26" y="499.25" width="5.70" height="5.70" fill="none" stroke="#000000" stroke-width="1.8"/>
<rect x="348.16" y="499.53" width="5.70" height="5.70" fill="none" stroke="#000000" stroke-width="1.8"/>
<rect x="361.79" y="499.98" width="5.70" height="5.70" fill="none" stroke="#000000" stroke-width="1.8"/>
<rect x="373.70" y="500.28" width="5.70" height="5.70" fill="none" stroke="#000000" stroke-width="1.8"/>
<rect x="384.29" y="500.50" width="5.70" height="5.70" fill="none" stroke="#000000" stroke-width="1.8"/>
<rect x="393.82" y="500.65" width="5.70" height="5.70" fill="none" stroke="#000000" stroke-width="1.8"/>
<rect x="402.49" y="500.77" width="5.70" height="5.70" fill="none" stroke="#000000" stroke-width="1.8"/>
<polyline points="106.80,420.10 211.40,480.20 260.04,487.60 292.07,494.30 316.00,498.00 335.11,499.80 351.01,500.57 364.64,501.47 376.55,502.07 387.14,502.49 396.67,502.80 405.34,503.03" fill="none" stroke="#0000ff" stroke-width="1.95" stroke-linejoin="round"/>
<polygon points="106.80,416.20 110.18,422.05 103.42,422.05" fill="#0000ff"/>
<polygon points="211.40,476.30 214.78,482.15 208.02,482.15" fill="#0000ff"/>
<polygon points="260.04,483.70 263.41,489.55 256.66,489.55" fill="#0000ff"/>
<polygon points="292.07,490.40 295.45,496.25 288.70,496.25" fill="#0000ff"/>
<polygon points="316.00,494.10 319.38,499.95 312.62,499.95" fill="#0000ff"/>
<polygon points="335.11,495.90 338.48,501.75 331.73,501.75" fill="#0000ff"/>
<polygon points="351.01,496.67 354.39,502.52 347.64,502.52" fill="#0000ff"/>
<polygon points="364.64,497.57 368.02,503.42 361.26,503.42" fill="#0000ff"/>
<polygon points="376.55,498.17 379.93,504.02 373.18,504.02" fill="#0000ff"/>
<polygon points="387.14,498.59 390.52,504.44 383.77,504.44" fill="#0000ff"/>
<polygon points="396.67,498.90 400.05,504.75 393.30,504.75" fill="#0000ff"/>
<polygon points="405.34,499.13 408.71,504.98 401.96,504.98" fill="#0000ff"/>
<polyline points="106.80,372.90 211.40,472.70 260.04,480.60 292.07,488.40 316.00,493.90 335.11,496.80 351.01,498.77 364.64,500.11 376.55,501.01 387.14,501.64 396.67,502.11 405.34,502.45" fill="none" stroke="#ff0000" stroke-width="1.95" stroke-linejoin="round"/>
<circle cx="106.80" cy="372.90" r="3.90" fill="#ff0000"/>
<circle cx="211.40" cy="472.70" r="3.90" fill="#ff0000"/>
<circle cx="260.04" cy="480.60" r="3.90" fill="#ff0000"/>
<circle cx="292.07" cy="488.40" r="3.90" fill="#ff0000"/>
<circle cx="316.00" cy="493.90" r="3.90" fill="#ff0000"/>
<circle cx="335.11" cy="496.80" r="3.90" fill="#ff0000"/>
<circle cx="351.01" cy="498.77" r="3.90" fill="#ff0000"/>
<circle cx="364.64" cy="500.11" r="3.90" fill="#ff0000"/>
<circle cx="376.55" cy="501.01" r="3.90" fill="#ff0000"/>
<circle cx="387.14" cy="501.64" r="3.90" fill="#ff0000"/>
<circle cx="396.67" cy="502.11" r="3.90" fill="#ff0000"/>
<circle cx="405.34" cy="502.45" r="3.90" fill="#ff0000"/>
<polyline points="106.80,518.60 211.40,523.10 260.04,514.20 292.07,510.30 316.00,507.40 335.11,506.00 351.01,506.03 364.64,505.58 376.55,505.27 387.14,505.06 396.67,504.90 405.34,504.78" fill="none" stroke="#ff9d00" stroke-width="1.95" stroke-linejoin="round"/>
<circle cx="106.80" cy="518.60" r="4.00" fill="none" stroke="#ff9d00" stroke-width="1.8"/>
<circle cx="211.40" cy="523.10" r="4.00" fill="none" stroke="#ff9d00" stroke-width="1.8"/>
<circle cx="260.04" cy="514.20" r="4.00" fill="none" stroke="#ff9d00" stroke-width="1.8"/>
<circle cx="292.07" cy="510.30" r="4.00" fill="none" stroke="#ff9d00" stroke-width="1.8"/>
<circle cx="316.00" cy="507.40" r="4.00" fill="none" stroke="#ff9d00" stroke-width="1.8"/>
<circle cx="335.11" cy="506.00" r="4.00" fill="none" stroke="#ff9d00" stroke-width="1.8"/>
<circle cx="351.01" cy="506.03" r="4.00" fill="none" stroke="#ff9d00" stroke-width="1.8"/>
<circle cx="364.64" cy="505.58" r="4.00" fill="none" stroke="#ff9d00" stroke-width="1.8"/>
<circle cx="376.55" cy="505.27" r="4.00" fill="none" stroke="#ff9d00" stroke-width="1.8"/>
<circle cx="387.14" cy="505.06" r="4.00" fill="none" stroke="#ff9d00" stroke-width="1.8"/>
<circle cx="396.67" cy="504.90" r="4.00" fill="none" stroke="#ff9d00" stroke-width="1.8"/>
<circle cx="405.34" cy="504.78" r="4.00" fill="none" stroke="#ff9d00" stroke-width="1.8"/>
<polyline points="106.80,502.50 211.40,548.00 260.04,525.40 292.07,516.20 316.00,511.80 335.11,509.00 351.01,507.88 364.64,506.96 376.55,506.35 387.14,505.92 396.67,505.60 405.34,505.37" fill="none" stroke="#00b6ff" stroke-width="1.95" stroke-linejoin="round"/>
<polygon points="106.80,499.15 109.70,504.18 103.90,504.18" fill="none" stroke="#00b6ff" stroke-width="1.8" stroke-linejoin="miter"/>
<polygon points="211.40,544.65 214.30,549.67 208.50,549.67" fill="none" stroke="#00b6ff" stroke-width="1.8" stroke-linejoin="miter"/>
<polygon points="260.04,522.05 262.94,527.07 257.14,527.07" fill="none" stroke="#00b6ff" stroke-width="1.8" stroke-linejoin="miter"/>
<polygon points="292.07,512.85 294.97,517.87 289.17,517.87" fill="none" stroke="#00b6ff" stroke-width="1.8" stroke-linejoin="miter"/>
<polygon points="316.00,508.45 318.90,513.47 313.10,513.47" fill="none" stroke="#00b6ff" stroke-width="1.8" stroke-linejoin="miter"/>
<polygon points="335.11,505.65 338.01,510.68 332.21,510.68" fill="none" stroke="#00b6ff" stroke-width="1.8" stroke-linejoin="miter"/>
<polygon points="351.01,504.53 353.91,509.56 348.11,509.56" fill="none" stroke="#00b6ff" stroke-width="1.8" stroke-linejoin="miter"/>
<polygon points="364.64,503.61 367.54,508.64 361.74,508.64" fill="none" stroke="#00b6ff" stroke-width="1.8" stroke-linejoin="miter"/>
<polygon points="376.55,503.00 379.46,508.02 373.65,508.02" fill="none" stroke="#00b6ff" stroke-width="1.8" stroke-linejoin="miter"/>
<polygon points="387.14,502.57 390.05,507.59 384.24,507.59" fill="none" stroke="#00b6ff" stroke-width="1.8" stroke-linejoin="miter"/>
<polygon points="396.67,502.25 399.57,507.28 393.77,507.28" fill="none" stroke="#00b6ff" stroke-width="1.8" stroke-linejoin="miter"/>
<polygon points="405.34,502.02 408.24,507.05 402.43,507.05" fill="none" stroke="#00b6ff" stroke-width="1.8" stroke-linejoin="miter"/>
<polyline points="106.80,464.70 211.40,583.50 260.04,538.80 292.07,523.90 316.00,516.90 335.11,512.50 351.01,509.74 364.64,508.35 376.55,507.43 387.14,506.78 396.67,506.31 405.34,505.96" fill="none" stroke="#00c000" stroke-width="1.95" stroke-linejoin="round"/>
<rect x="103.95" y="461.85" width="5.70" height="5.70" fill="none" stroke="#00c000" stroke-width="1.8"/>
<rect x="208.55" y="580.65" width="5.70" height="5.70" fill="none" stroke="#00c000" stroke-width="1.8"/>
<rect x="257.19" y="535.95" width="5.70" height="5.70" fill="none" stroke="#00c000" stroke-width="1.8"/>
<rect x="289.22" y="521.05" width="5.70" height="5.70" fill="none" stroke="#00c000" stroke-width="1.8"/>
<rect x="313.15" y="514.05" width="5.70" height="5.70" fill="none" stroke="#00c000" stroke-width="1.8"/>
<rect x="332.26" y="509.65" width="5.70" height="5.70" fill="none" stroke="#00c000" stroke-width="1.8"/>
<rect x="348.16" y="506.89" width="5.70" height="5.70" fill="none" stroke="#00c000" stroke-width="1.8"/>
<rect x="361.79" y="505.50" width="5.70" height="5.70" fill="none" stroke="#00c000" stroke-width="1.8"/>
<rect x="373.70" y="504.58" width="5.70" height="5.70" fill="none" stroke="#00c000" stroke-width="1.8"/>
<rect x="384.29" y="503.93" width="5.70" height="5.70" fill="none" stroke="#00c000" stroke-width="1.8"/>
<rect x="393.82" y="503.46" width="5.70" height="5.70" fill="none" stroke="#00c000" stroke-width="1.8"/>
<rect x="402.49" y="503.11" width="5.70" height="5.70" fill="none" stroke="#00c000" stroke-width="1.8"/>
<g font-family="'Liberation Sans', sans-serif" font-size="17.0" fill="#000">
<text transform="translate(422.30,19.67) scale(1.065,1)" text-anchor="start" stroke="#000" stroke-width="0.35" stroke-linejoin="round">100</text>
<text transform="translate(422.30,102.08) scale(1.065,1)" text-anchor="start" stroke="#000" stroke-width="0.35" stroke-linejoin="round">10</text>
<text transform="translate(422.30,184.49) scale(1.065,1)" text-anchor="start" stroke="#000" stroke-width="0.35" stroke-linejoin="round">1</text>
<text transform="translate(422.30,266.90) scale(1.065,1)" text-anchor="start" stroke="#000" stroke-width="0.35" stroke-linejoin="round">0.1</text>
<text transform="translate(422.30,414.04) scale(1.065,1)" text-anchor="start" stroke="#000" stroke-width="0.35" stroke-linejoin="round">2</text>
<text transform="translate(422.30,512.90) scale(1.065,1)" text-anchor="start" stroke="#000" stroke-width="0.35" stroke-linejoin="round">1</text>
<text transform="translate(422.30,544.73) scale(1.065,1)" text-anchor="start" stroke="#000" stroke-width="0.35" stroke-linejoin="round">0.8</text>
<text transform="translate(422.30,585.76) scale(1.065,1)" text-anchor="start" stroke="#000" stroke-width="0.35" stroke-linejoin="round">0.6</text>
<text transform="translate(422.30,643.58) scale(1.065,1)" text-anchor="start" stroke="#000" stroke-width="0.35" stroke-linejoin="round">0.4</text>
<text transform="translate(256.20,696.40) scale(1.065,1)" text-anchor="middle" stroke="#000" stroke-width="0.35" stroke-linejoin="round">0.01</text>
</g>
<text transform="translate(151.33,52.80) scale(0.2140,0.3100)" font-family="'Liberation Serif', serif" font-weight="normal" font-size="100" fill="#000" style="font-kerning:none" stroke="#000" stroke-width="1.527" stroke-linejoin="round">I</text>
<text transform="translate(160.71,52.80) scale(0.3464,0.2929)" font-family="'Liberation Serif', serif" font-weight="normal" font-size="100" fill="#000" style="font-kerning:none" stroke="#000" stroke-width="1.251" stroke-linejoin="round">n</text>
<text transform="translate(180.96,52.94) scale(0.3372,0.2894)" font-family="'Liberation Serif', serif" font-weight="normal" font-size="100" fill="#000" style="font-kerning:none" stroke="#000" stroke-width="1.277" stroke-linejoin="round">p</text>
<text transform="translate(199.76,53.00) scale(0.3364,0.2941)" font-family="'Liberation Serif', serif" font-weight="normal" font-size="100" fill="#000" style="font-kerning:none" stroke="#000" stroke-width="1.269" stroke-linejoin="round">u</text>
<text transform="translate(219.44,53.00) scale(0.3738,0.3304)" font-family="'Liberation Serif', serif" font-weight="normal" font-size="100" fill="#000" style="font-kerning:none" stroke="#000" stroke-width="1.136" stroke-linejoin="round">t</text>
<text transform="translate(150.81,405.81) scale(0.2645,0.2977)" font-family="'Liberation Serif', serif" font-weight="normal" font-size="100" fill="#000" style="font-kerning:none" stroke="#000" stroke-width="1.423" stroke-linejoin="round">C</text>
<text transform="translate(168.99,405.82) scale(0.3445,0.2911)" font-family="'Liberation Serif', serif" font-weight="normal" font-size="100" fill="#000" style="font-kerning:none" stroke="#000" stroke-width="1.259" stroke-linejoin="round">o</text>
<text transform="translate(187.49,405.80) scale(0.3550,0.2950)" font-family="'Liberation Serif', serif" font-weight="normal" font-size="100" fill="#000" style="font-kerning:none" stroke="#000" stroke-width="1.231" stroke-linejoin="round">n</text>
<text transform="translate(207.20,405.72) scale(0.2860,0.2901)" font-family="'Liberation Serif', serif" font-weight="normal" font-size="100" fill="#000" style="font-kerning:none" stroke="#000" stroke-width="1.389" stroke-linejoin="round">v</text>
<text transform="translate(223.02,405.82) scale(0.3350,0.2911)" font-family="'Liberation Serif', serif" font-weight="normal" font-size="100" fill="#000" style="font-kerning:none" stroke="#000" stroke-width="1.278" stroke-linejoin="round">o</text>
<text transform="translate(241.77,405.80) scale(0.2649,0.2810)" font-family="'Liberation Serif', serif" font-weight="normal" font-size="100" fill="#000" style="font-kerning:none" stroke="#000" stroke-width="1.465" stroke-linejoin="round">l</text>
<text transform="translate(251.40,405.72) scale(0.2840,0.2901)" font-family="'Liberation Serif', serif" font-weight="normal" font-size="100" fill="#000" style="font-kerning:none" stroke="#000" stroke-width="1.393" stroke-linejoin="round">v</text>
<text transform="translate(267.06,405.81) scale(0.3675,0.2952)" font-family="'Liberation Serif', serif" font-weight="normal" font-size="100" fill="#000" style="font-kerning:none" stroke="#000" stroke-width="1.207" stroke-linejoin="round">e</text>
<text transform="translate(283.70,405.83) scale(0.3321,0.2814)" font-family="'Liberation Serif', serif" font-weight="normal" font-size="100" fill="#000" style="font-kerning:none" stroke="#000" stroke-width="1.304" stroke-linejoin="round">d</text>
<rect x="256.79" y="214.29" width="5.82" height="5.82" fill="#000000"/>
<text transform="translate(271.90,222.10) scale(0.1997,0.2201)" font-family="'Liberation Serif', serif" font-weight="bold" font-size="100" fill="#000000" style="font-kerning:none" stroke="#000000" stroke-width="1.429" stroke-linejoin="round">f</text>
<text transform="translate(280.12,228.40) scale(0.1227,0.1359)" font-family="'Liberation Serif', serif" font-weight="bold" font-size="100" fill="#000000" style="font-kerning:none" stroke="#000000" stroke-width="3.866" stroke-linejoin="round">NL</text>
<line x1="309.50" y1="212.95" x2="322.10" y2="212.95" stroke="#000000" stroke-width="1.9"/>
<line x1="309.50" y1="217.55" x2="322.10" y2="217.55" stroke="#000000" stroke-width="1.9"/>
<text transform="translate(335.62,221.43) scale(0.2722,0.2223)" font-family="'Liberation Serif', serif" font-weight="normal" font-size="100" fill="#000000" style="font-kerning:none" stroke="#000000" stroke-width="2.427" stroke-linejoin="round">50</text>
<polygon points="259.70,231.88 263.08,237.73 256.32,237.73" fill="#0000ff"/>
<text transform="translate(271.90,240.28) scale(0.1997,0.2201)" font-family="'Liberation Serif', serif" font-weight="bold" font-size="100" fill="#0000ff" style="font-kerning:none" stroke="#0000ff" stroke-width="1.429" stroke-linejoin="round">f</text>
<text transform="translate(280.12,246.58) scale(0.1227,0.1359)" font-family="'Liberation Serif', serif" font-weight="bold" font-size="100" fill="#0000ff" style="font-kerning:none" stroke="#0000ff" stroke-width="3.866" stroke-linejoin="round">NL</text>
<line x1="309.50" y1="231.13" x2="322.10" y2="231.13" stroke="#0000ff" stroke-width="1.9"/>
<line x1="309.50" y1="235.73" x2="322.10" y2="235.73" stroke="#0000ff" stroke-width="1.9"/>
<text transform="translate(337.41,239.61) scale(0.2605,0.2223)" font-family="'Liberation Serif', serif" font-weight="normal" font-size="100" fill="#0000ff" style="font-kerning:none" stroke="#0000ff" stroke-width="2.485" stroke-linejoin="round">100</text>
<circle cx="259.70" cy="253.36" r="3.90" fill="#ff0000"/>
<text transform="translate(271.90,258.46) scale(0.1997,0.2201)" font-family="'Liberation Serif', serif" font-weight="bold" font-size="100" fill="#ff0000" style="font-kerning:none" stroke="#ff0000" stroke-width="1.429" stroke-linejoin="round">f</text>
<text transform="translate(280.12,264.76) scale(0.1227,0.1359)" font-family="'Liberation Serif', serif" font-weight="bold" font-size="100" fill="#ff0000" style="font-kerning:none" stroke="#ff0000" stroke-width="3.866" stroke-linejoin="round">NL</text>
<line x1="309.50" y1="249.31" x2="322.10" y2="249.31" stroke="#ff0000" stroke-width="1.9"/>
<line x1="309.50" y1="253.91" x2="322.10" y2="253.91" stroke="#ff0000" stroke-width="1.9"/>
<text transform="translate(337.41,257.79) scale(0.2605,0.2223)" font-family="'Liberation Serif', serif" font-weight="normal" font-size="100" fill="#ff0000" style="font-kerning:none" stroke="#ff0000" stroke-width="2.485" stroke-linejoin="round">150</text>
<circle cx="259.70" cy="271.44" r="4.00" fill="none" stroke="#ff9d00" stroke-width="1.8"/>
<text transform="translate(271.90,276.64) scale(0.1997,0.2201)" font-family="'Liberation Serif', serif" font-weight="bold" font-size="100" fill="#ff9d00" style="font-kerning:none" stroke="#ff9d00" stroke-width="1.429" stroke-linejoin="round">f</text>
<text transform="translate(280.12,282.94) scale(0.1227,0.1359)" font-family="'Liberation Serif', serif" font-weight="bold" font-size="100" fill="#ff9d00" style="font-kerning:none" stroke="#ff9d00" stroke-width="3.866" stroke-linejoin="round">NL</text>
<line x1="309.50" y1="267.49" x2="322.10" y2="267.49" stroke="#ff9d00" stroke-width="1.9"/>
<line x1="309.50" y1="272.09" x2="322.10" y2="272.09" stroke="#ff9d00" stroke-width="1.9"/>
<line x1="338.70" y1="269.69" x2="351.30" y2="269.69" stroke="#ff9d00" stroke-width="1.9"/>
<text transform="translate(353.11,275.97) scale(0.2744,0.2223)" font-family="'Liberation Serif', serif" font-weight="normal" font-size="100" fill="#ff9d00" style="font-kerning:none" stroke="#ff9d00" stroke-width="2.416" stroke-linejoin="round">50</text>
<polygon points="259.70,286.67 262.60,291.69 256.80,291.69" fill="none" stroke="#00b6ff" stroke-width="1.8" stroke-linejoin="miter"/>
<text transform="translate(271.90,294.82) scale(0.1997,0.2201)" font-family="'Liberation Serif', serif" font-weight="bold" font-size="100" fill="#00b6ff" style="font-kerning:none" stroke="#00b6ff" stroke-width="1.429" stroke-linejoin="round">f</text>
<text transform="translate(280.12,301.12) scale(0.1227,0.1359)" font-family="'Liberation Serif', serif" font-weight="bold" font-size="100" fill="#00b6ff" style="font-kerning:none" stroke="#00b6ff" stroke-width="3.866" stroke-linejoin="round">NL</text>
<line x1="309.50" y1="285.67" x2="322.10" y2="285.67" stroke="#00b6ff" stroke-width="1.9"/>
<line x1="309.50" y1="290.27" x2="322.10" y2="290.27" stroke="#00b6ff" stroke-width="1.9"/>
<line x1="338.70" y1="287.87" x2="351.30" y2="287.87" stroke="#00b6ff" stroke-width="1.9"/>
<text transform="translate(355.46,294.15) scale(0.2547,0.2223)" font-family="'Liberation Serif', serif" font-weight="normal" font-size="100" fill="#00b6ff" style="font-kerning:none" stroke="#00b6ff" stroke-width="2.516" stroke-linejoin="round">100</text>
<rect x="256.85" y="304.75" width="5.70" height="5.70" fill="none" stroke="#00c000" stroke-width="1.8"/>
<text transform="translate(271.90,313.00) scale(0.1997,0.2201)" font-family="'Liberation Serif', serif" font-weight="bold" font-size="100" fill="#00c000" style="font-kerning:none" stroke="#00c000" stroke-width="1.429" stroke-linejoin="round">f</text>
<text transform="translate(280.12,319.30) scale(0.1227,0.1359)" font-family="'Liberation Serif', serif" font-weight="bold" font-size="100" fill="#00c000" style="font-kerning:none" stroke="#00c000" stroke-width="3.866" stroke-linejoin="round">NL</text>
<line x1="309.50" y1="303.85" x2="322.10" y2="303.85" stroke="#00c000" stroke-width="1.9"/>
<line x1="309.50" y1="308.45" x2="322.10" y2="308.45" stroke="#00c000" stroke-width="1.9"/>
<line x1="338.70" y1="306.05" x2="351.30" y2="306.05" stroke="#00c000" stroke-width="1.9"/>
<text transform="translate(355.46,312.33) scale(0.2547,0.2223)" font-family="'Liberation Serif', serif" font-weight="normal" font-size="100" fill="#00c000" style="font-kerning:none" stroke="#00c000" stroke-width="2.516" stroke-linejoin="round">150</text>
<text transform="translate(188.23,725.80) scale(0.2453,0.2133)" font-family="'Liberation Serif', serif" font-weight="normal" font-size="100" fill="#000" style="font-kerning:none" stroke="#000" stroke-width="2.616" stroke-linejoin="round">k</text>
<text transform="translate(213.46,725.38) scale(0.2141,0.2404)" font-family="'Liberation Serif', serif" font-weight="normal" font-size="100" fill="#000" style="font-kerning:none" stroke="#000" stroke-width="2.640" stroke-linejoin="round">(</text>
<text transform="translate(223.35,725.80) scale(0.2599,0.2133)" font-family="'Liberation Serif', serif" font-weight="normal" font-size="100" fill="#000" style="font-kerning:none" stroke="#000" stroke-width="2.536" stroke-linejoin="round">h</text>
<text transform="translate(237.59,725.80) scale(0.1781,0.2214)" font-family="'Liberation Serif', serif" font-weight="normal" font-size="100" fill="#000" style="font-kerning:none" stroke="#000" stroke-width="3.004" stroke-linejoin="round">M</text>
<text transform="translate(255.23,725.86) scale(0.2945,0.2178)" font-family="'Liberation Serif', serif" font-weight="normal" font-size="100" fill="#000" style="font-kerning:none" stroke="#000" stroke-width="2.342" stroke-linejoin="round">p</text>
<text transform="translate(269.97,725.89) scale(0.2693,0.2183)" font-family="'Liberation Serif', serif" font-weight="normal" font-size="100" fill="#000" style="font-kerning:none" stroke="#000" stroke-width="2.461" stroke-linejoin="round">c</text>
<line x1="283.70" y1="714.90" x2="291.00" y2="714.90" stroke="#000" stroke-width="2.0"/>
<text transform="translate(292.75,720.40) scale(0.1420,0.1530)" font-family="'Liberation Serif', serif" font-weight="normal" font-size="100" fill="#000" style="font-kerning:none" stroke="#000" stroke-width="4.068" stroke-linejoin="round">1</text>
<text transform="translate(301.71,725.38) scale(0.2141,0.2404)" font-family="'Liberation Serif', serif" font-weight="normal" font-size="100" fill="#000" style="font-kerning:none" stroke="#000" stroke-width="2.640" stroke-linejoin="round">)</text>
<g transform="translate(20.8,406.6) rotate(-90)">
<text transform="translate(-0.41,-0.30) scale(0.2463,0.2337)" font-family="'Liberation Serif', serif" font-weight="normal" font-size="100" fill="#000" style="font-kerning:none" stroke="#000" stroke-width="2.500" stroke-linejoin="round">P</text>
<text transform="translate(13.74,-6.93) scale(0.1463,0.1372)" font-family="'Liberation Serif', serif" font-weight="normal" font-size="100" fill="#000" style="font-kerning:none" stroke="#000" stroke-width="7.054" stroke-linejoin="round">o</text>
<text transform="translate(13.89,6.58) scale(0.1380,0.1254)" font-family="'Liberation Serif', serif" font-weight="bold" font-size="100" fill="#000" style="font-kerning:none" stroke="#000" stroke-width="5.317" stroke-linejoin="round">g</text>
<line x1="22.9" y1="4.2" x2="34.5" y2="-17.9" stroke="#000" stroke-width="2"/>
<text transform="translate(37.43,-0.30) scale(0.2339,0.2337)" font-family="'Liberation Serif', serif" font-weight="normal" font-size="100" fill="#000" style="font-kerning:none" stroke="#000" stroke-width="2.566" stroke-linejoin="round">P</text>
<text transform="translate(51.64,-6.93) scale(0.1463,0.1372)" font-family="'Liberation Serif', serif" font-weight="normal" font-size="100" fill="#000" style="font-kerning:none" stroke="#000" stroke-width="7.054" stroke-linejoin="round">o</text>
<text transform="translate(51.79,6.58) scale(0.1380,0.1254)" font-family="'Liberation Serif', serif" font-weight="bold" font-size="100" fill="#000" style="font-kerning:none" stroke="#000" stroke-width="5.317" stroke-linejoin="round">g</text>
<text transform="translate(60.58,-1.16) scale(0.2103,0.2470)" font-family="'Liberation Serif', serif" font-weight="normal" font-size="100" fill="#000" style="font-kerning:none" stroke="#000" stroke-width="2.624" stroke-linejoin="round">(</text>
<text transform="translate(69.65,-0.30) scale(0.2117,0.2173)" font-family="'Liberation Serif', serif" font-weight="normal" font-size="100" fill="#000" style="font-kerning:none" stroke="#000" stroke-width="2.797" stroke-linejoin="round">f</text>
<text transform="translate(78.07,6.90) scale(0.1212,0.1527)" font-family="'Liberation Serif', serif" font-weight="bold" font-size="100" fill="#000" style="font-kerning:none" stroke="#000" stroke-width="2.920" stroke-linejoin="round">NL</text>
<line x1="96.70" y1="-9.30" x2="109.30" y2="-9.30" stroke="#000" stroke-width="2.0"/>
<line x1="96.70" y1="-4.90" x2="109.30" y2="-4.90" stroke="#000" stroke-width="2.0"/>
<text transform="translate(111.82,-0.32) scale(0.2831,0.2297)" font-family="'Liberation Serif', serif" font-weight="normal" font-size="100" fill="#000" style="font-kerning:none" stroke="#000" stroke-width="2.340" stroke-linejoin="round">0</text>
<text transform="translate(126.32,-1.16) scale(0.2414,0.2470)" font-family="'Liberation Serif', serif" font-weight="normal" font-size="100" fill="#000" style="font-kerning:none" stroke="#000" stroke-width="2.457" stroke-linejoin="round">)</text>
</g>
</svg>
</body></html>
